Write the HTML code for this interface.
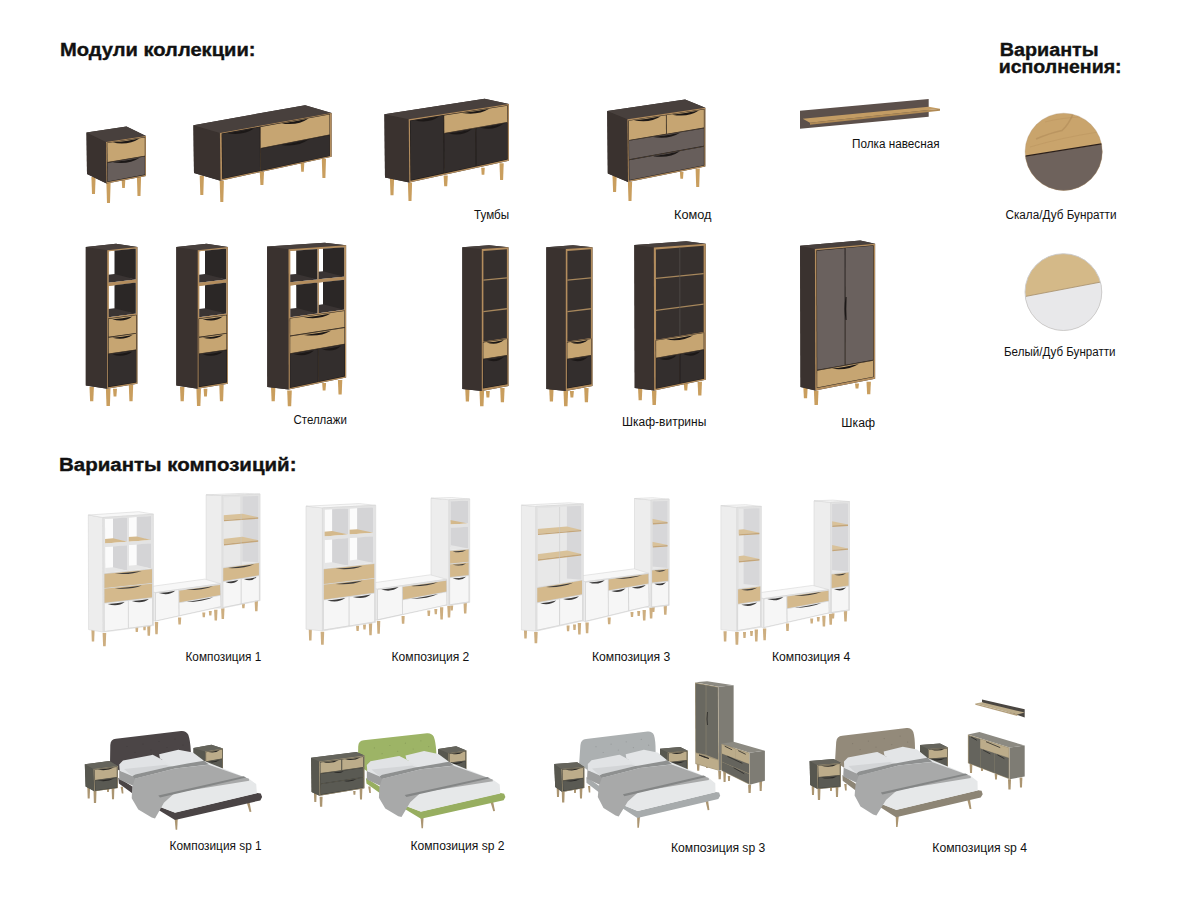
<!DOCTYPE html>
<html><head><meta charset="utf-8"><style>
html,body{margin:0;padding:0;background:#fff;width:1200px;height:900px;overflow:hidden}
svg{display:block}
text{font-family:"Liberation Sans",sans-serif;fill:#111}
</style></head><body>
<svg width="1200" height="900" viewBox="0 0 1200 900">
<text x="60.0" y="55.7" font-size="18" font-weight="bold" textLength="195.5" lengthAdjust="spacingAndGlyphs" stroke="#111" stroke-width="0.35">Модули коллекции:</text>
<text x="999.7" y="56.0" font-size="18" font-weight="bold" textLength="99.0" lengthAdjust="spacingAndGlyphs" stroke="#111" stroke-width="0.35">Варианты</text>
<text x="998.7" y="73.3" font-size="18" font-weight="bold" textLength="122.9" lengthAdjust="spacingAndGlyphs" stroke="#111" stroke-width="0.35">исполнения:</text>
<text x="852.0" y="148.0" font-size="12" font-weight="normal" textLength="87.5" lengthAdjust="spacingAndGlyphs">Полка навесная</text>
<text x="474.0" y="219.0" font-size="12" font-weight="normal" textLength="35.0" lengthAdjust="spacingAndGlyphs">Тумбы</text>
<text x="674.0" y="219.0" font-size="12" font-weight="normal" textLength="37.5" lengthAdjust="spacingAndGlyphs">Комод</text>
<text x="1005.5" y="218.9" font-size="12" font-weight="normal" textLength="111.0" lengthAdjust="spacingAndGlyphs">Скала/Дуб Бунратти</text>
<text x="1004.0" y="356.3" font-size="12" font-weight="normal" textLength="111.5" lengthAdjust="spacingAndGlyphs">Белый/Дуб Бунратти</text>
<text x="293.5" y="423.8" font-size="12" font-weight="normal" textLength="53.3" lengthAdjust="spacingAndGlyphs">Стеллажи</text>
<text x="622.0" y="425.5" font-size="12" font-weight="normal" textLength="84.3" lengthAdjust="spacingAndGlyphs">Шкаф-витрины</text>
<text x="841.3" y="426.5" font-size="12" font-weight="normal" textLength="33.7" lengthAdjust="spacingAndGlyphs">Шкаф</text>
<text x="59.0" y="470.6" font-size="18" font-weight="bold" textLength="237.5" lengthAdjust="spacingAndGlyphs" stroke="#111" stroke-width="0.35">Варианты композиций:</text>
<text x="185.5" y="660.5" font-size="12" font-weight="normal" textLength="75.8" lengthAdjust="spacingAndGlyphs">Композиция 1</text>
<text x="391.6" y="660.5" font-size="12" font-weight="normal" textLength="77.7" lengthAdjust="spacingAndGlyphs">Композиция 2</text>
<text x="592.0" y="661.2" font-size="12" font-weight="normal" textLength="78.3" lengthAdjust="spacingAndGlyphs">Композиция 3</text>
<text x="772.0" y="661.2" font-size="12" font-weight="normal" textLength="78.3" lengthAdjust="spacingAndGlyphs">Композиция 4</text>
<text x="169.6" y="850.0" font-size="12" font-weight="normal" textLength="92.0" lengthAdjust="spacingAndGlyphs">Композиция sp 1</text>
<text x="410.5" y="850.0" font-size="12" font-weight="normal" textLength="94.1" lengthAdjust="spacingAndGlyphs">Композиция sp 2</text>
<text x="671.0" y="851.5" font-size="12" font-weight="normal" textLength="94.3" lengthAdjust="spacingAndGlyphs">Композиция sp 3</text>
<text x="932.3" y="851.5" font-size="12" font-weight="normal" textLength="94.7" lengthAdjust="spacingAndGlyphs">Композиция sp 4</text>
<polygon points="121.7,180.0 125.3,180.0 124.8,188.0 122.2,188.0" fill="#c99e5e" />
<polygon points="91.4,177.0 95.6,177.0 95.0,194.0 92.0,194.0" fill="#c99e5e" />
<polygon points="136.9,176.0 141.1,176.0 140.5,196.0 137.5,196.0" fill="#c99e5e" />
<polygon points="106.4,183.0 110.6,183.0 110.0,203.0 107.0,203.0" fill="#c99e5e" />
<polygon points="86.5,132.5 126.5,126.5 146.0,136.0 146.0,176.0 106.5,183.5 87.0,174.0" fill="#3a322f" />
<polygon points="106.0,142.0 86.5,132.5 87.0,174.0 106.5,183.5" fill="#3a322f" />
<polygon points="106.0,142.0 146.0,136.0 126.5,126.5 86.5,132.5" fill="#48403d" />
<polygon points="106.0,142.0 146.0,136.0 146.0,176.0 106.5,183.5" fill="#b38d5e" />
<polygon points="106.8,142.7 145.2,136.9 145.2,156.1 107.0,162.6" fill="#1e1a19" />
<polygon points="107.3,143.1 144.8,137.4 144.8,155.8 107.5,162.1" fill="#c6a572" />
<path d="M112.5,142.5 Q128.7,145.6 139.5,138.4 Q126.0,141.3 112.5,142.5Z" fill="#1c1817"/>
<polygon points="107.0,162.6 145.2,156.1 145.2,174.9 107.3,182.1" fill="#1e1a19" />
<polygon points="107.5,163.0 144.8,156.6 144.8,174.6 107.7,181.6" fill="#675e5b" />
<path d="M112.6,162.3 Q128.8,165.0 139.6,157.7 Q126.1,160.8 112.6,162.3Z" fill="#1c1817"/>
<polygon points="300.7,163.0 304.3,163.0 303.8,171.7 301.2,171.7" fill="#c99e5e" />
<polygon points="259.8,172.0 264.0,172.0 263.4,185.0 260.4,185.0" fill="#c99e5e" />
<polygon points="199.7,175.6 203.9,175.6 203.3,195.0 200.3,195.0" fill="#c99e5e" />
<polygon points="321.8,158.8 326.0,158.8 325.4,178.0 322.4,178.0" fill="#c99e5e" />
<polygon points="219.7,180.7 223.9,180.7 223.3,202.0 220.3,202.0" fill="#c99e5e" />
<polygon points="193.4,125.2 305.1,105.2 331.6,112.9 331.6,156.8 220.5,180.7 194.0,173.0" fill="#3a322f" />
<polygon points="219.9,132.9 193.4,125.2 194.0,173.0 220.5,180.7" fill="#3a322f" />
<polygon points="219.9,132.9 331.6,112.9 305.1,105.2 193.4,125.2" fill="#48403d" />
<polygon points="219.9,132.9 331.6,112.9 331.6,156.8 220.5,180.7" fill="#b38d5e" />
<polygon points="221.6,133.6 260.1,126.6 260.5,170.9 222.2,179.1" fill="#1e1a19" />
<polygon points="222.0,133.9 259.7,127.1 260.0,170.6 222.6,178.6" fill="#332e2d" />
<path d="M227.4,133.2 Q243.6,135.9 254.4,128.3 Q240.9,131.6 227.4,133.2Z" fill="#1c1817"/>
<polygon points="260.1,126.6 329.9,114.1 329.9,134.7 260.3,148.4" fill="#1e1a19" />
<polygon points="260.6,127.0 329.5,114.6 329.5,134.4 260.7,147.9" fill="#c6a572" />
<path d="M281.5,123.4 Q297.7,126.1 308.5,118.6 Q295.0,121.8 281.5,123.4Z" fill="#1c1817"/>
<polygon points="260.3,148.4 329.9,134.7 329.9,156.1 260.5,170.9" fill="#1e1a19" />
<polygon points="260.8,148.8 329.5,135.2 329.5,155.7 260.9,170.4" fill="#332e2d" />
<path d="M281.6,144.9 Q297.8,147.3 308.6,139.6 Q295.1,143.1 281.6,144.9Z" fill="#1c1817"/>
<polygon points="481.2,167.8 484.8,167.8 484.3,174.8 481.7,174.8" fill="#c99e5e" />
<polygon points="443.6,175.5 447.8,175.5 447.2,186.3 444.2,186.3" fill="#c99e5e" />
<polygon points="389.9,178.0 394.1,178.0 393.5,195.3 390.5,195.3" fill="#c99e5e" />
<polygon points="499.5,163.3 503.7,163.3 503.1,180.0 500.1,180.0" fill="#c99e5e" />
<polygon points="407.9,182.5 412.1,182.5 411.5,201.0 408.5,201.0" fill="#c99e5e" />
<polygon points="384.4,114.2 484.6,98.8 508.9,103.9 508.9,160.8 409.3,182.5 385.0,177.4" fill="#3a322f" />
<polygon points="408.7,119.3 384.4,114.2 385.0,177.4 409.3,182.5" fill="#3a322f" />
<polygon points="408.7,119.3 508.9,103.9 484.6,98.8 384.4,114.2" fill="#48403d" />
<polygon points="408.7,119.3 508.9,103.9 508.9,160.8 409.3,182.5" fill="#b38d5e" />
<polygon points="409.9,120.4 443.8,115.1 444.2,173.4 410.5,180.7" fill="#1e1a19" />
<polygon points="410.4,120.8 443.3,115.6 443.7,173.0 410.9,180.1" fill="#332e2d" />
<path d="M414.7,120.4 Q429.3,123.7 439.0,116.6 Q426.9,119.3 414.7,120.4Z" fill="#1c1817"/>
<polygon points="443.8,115.1 507.7,105.2 507.7,122.3 443.9,133.4" fill="#1e1a19" />
<polygon points="444.2,115.5 507.2,105.7 507.3,122.0 444.3,132.9" fill="#c6a572" />
<path d="M462.2,113.0 Q478.4,115.5 489.2,108.8 Q475.7,111.6 462.2,113.0Z" fill="#1c1817"/>
<polygon points="443.9,133.4 475.9,127.9 476.0,166.5 444.2,173.4" fill="#1e1a19" />
<polygon points="444.3,133.8 475.4,128.4 475.6,166.2 444.6,172.8" fill="#332e2d" />
<path d="M448.4,133.4 Q462.2,136.6 471.4,129.4 Q459.9,132.2 448.4,133.4Z" fill="#1c1817"/>
<polygon points="475.9,127.9 507.7,122.3 507.7,159.6 476.0,166.5" fill="#1e1a19" />
<polygon points="476.3,128.2 507.3,122.8 507.3,159.3 476.5,166.0" fill="#332e2d" />
<path d="M480.4,127.8 Q494.1,131.0 503.2,123.8 Q491.8,126.6 480.4,127.8Z" fill="#1c1817"/>
<polygon points="679.9,171.7 683.5,171.7 683.0,178.7 680.4,178.7" fill="#c99e5e" />
<polygon points="612.5,175.5 616.7,175.5 616.1,192.0 613.1,192.0" fill="#c99e5e" />
<polygon points="695.6,168.5 699.8,168.5 699.2,187.0 696.2,187.0" fill="#c99e5e" />
<polygon points="627.9,181.9 632.1,181.9 631.5,201.0 628.5,201.0" fill="#c99e5e" />
<polygon points="607.2,111.0 685.1,99.5 705.3,107.8 705.3,166.6 628.0,181.9 607.8,173.6" fill="#3a322f" />
<polygon points="627.4,119.3 607.2,111.0 607.8,173.6 628.0,181.9" fill="#3a322f" />
<polygon points="627.4,119.3 705.3,107.8 685.1,99.5 607.2,111.0" fill="#48403d" />
<polygon points="627.4,119.3 705.3,107.8 705.3,166.6 628.0,181.9" fill="#b38d5e" />
<polygon points="628.3,120.4 666.4,114.8 666.5,134.2 628.5,140.4" fill="#1e1a19" />
<polygon points="628.8,120.8 665.9,115.3 666.0,133.8 629.0,139.9" fill="#c6a572" />
<path d="M633.9,120.3 Q650.1,123.5 660.9,116.3 Q647.4,119.2 633.9,120.3Z" fill="#1c1817"/>
<polygon points="666.4,114.8 704.4,109.1 704.4,127.9 666.5,134.2" fill="#1e1a19" />
<polygon points="666.8,115.1 703.9,109.6 703.9,127.6 666.9,133.7" fill="#c6a572" />
<path d="M671.9,114.7 Q688.1,117.7 698.9,110.6 Q685.4,113.5 671.9,114.7Z" fill="#1c1817"/>
<polygon points="628.5,140.4 704.4,127.9 704.4,146.2 628.7,159.8" fill="#1e1a19" />
<polygon points="629.0,140.8 703.9,128.4 703.9,145.8 629.2,159.3" fill="#675e5b" />
<path d="M653.0,137.1 Q669.2,139.8 680.0,132.7 Q666.5,135.7 653.0,137.1Z" fill="#1c1817"/>
<polygon points="628.7,159.8 704.4,146.2 704.4,165.6 628.9,180.5" fill="#1e1a19" />
<polygon points="629.2,160.2 703.9,146.7 703.9,165.3 629.4,179.9" fill="#675e5b" />
<path d="M653.0,156.2 Q669.2,158.8 680.0,151.3 Q666.5,154.6 653.0,156.2Z" fill="#1c1817"/>
<polygon points="800.0,110.7 928.7,99.1 928.7,116.7 800.0,128.7" fill="#5c504b" />
<polygon points="802.7,118.7 928.7,106.7 940.0,108.7 810.0,122.7" fill="#c39c64" />
<polygon points="810.0,122.7 940.0,108.7 940.0,110.7 810.0,124.7" fill="#b08a55" />
<polygon points="113.0,388.7 117.0,388.7 116.4,396.5 113.6,396.5" fill="#c99e5e" />
<polygon points="89.5,386.7 93.9,386.7 93.3,401.3 90.1,401.3" fill="#c99e5e" />
<polygon points="128.8,384.8 133.2,384.8 132.6,401.3 129.4,401.3" fill="#c99e5e" />
<polygon points="105.9,388.7 110.5,388.7 109.9,406.0 106.5,406.0" fill="#c99e5e" />
<polygon points="85.8,247.0 116.0,243.8 137.4,247.0 137.4,383.8 107.2,388.7 85.8,385.5" fill="#3a322f" />
<polygon points="107.2,250.2 85.8,247.0 85.8,385.5 107.2,388.7" fill="#3a322f" />
<polygon points="107.2,250.2 137.4,247.0 116.0,243.8 85.8,247.0" fill="#48403d" />
<polygon points="107.2,250.2 137.4,247.0 137.4,383.8 107.2,388.7" fill="#b38d5e" />
<clipPath id="c101"><polygon points="108.7,251.3 135.9,248.4 135.9,279.5 108.7,282.7"/></clipPath>
<g clip-path="url(#c101)"><polygon points="108.7,251.3 135.9,248.4 135.9,279.5 108.7,282.7" fill="#ffffff" /><polygon points="135.9,248.4 114.5,245.2 114.5,276.3 135.9,279.5" fill="#2b2726" /><polygon points="108.7,282.7 135.9,279.5 114.5,274.0 87.3,277.2" fill="#3a3433" /></g>
<clipPath id="c102"><polygon points="108.7,285.9 135.9,282.6 135.9,313.7 108.7,317.3"/></clipPath>
<g clip-path="url(#c102)"><polygon points="108.7,285.9 135.9,282.6 135.9,313.7 108.7,317.3" fill="#ffffff" /><polygon points="135.9,282.6 114.5,279.4 114.5,310.5 135.9,313.7" fill="#2b2726" /><polygon points="108.7,317.3 135.9,313.7 114.5,308.2 87.3,311.8" fill="#3a3433" /></g>
<polygon points="108.1,318.6 136.5,314.8 136.5,333.3 108.1,337.3" fill="#1e1a19" />
<polygon points="108.6,319.0 136.0,315.3 136.0,332.9 108.6,336.8" fill="#c6a572" />
<path d="M112.2,319.2 Q124.3,322.8 132.4,316.5 Q122.3,318.6 112.2,319.2Z" fill="#1c1817"/>
<polygon points="108.1,337.3 136.5,333.3 136.5,349.7 108.1,353.9" fill="#1e1a19" />
<polygon points="108.6,337.7 136.0,333.8 136.0,349.4 108.6,353.4" fill="#c6a572" />
<path d="M112.2,337.8 Q124.3,340.8 132.4,335.0 Q122.3,337.1 112.2,337.8Z" fill="#1c1817"/>
<polygon points="108.1,353.9 136.5,349.7 136.5,382.6 108.1,387.2" fill="#1e1a19" />
<polygon points="108.6,354.3 136.0,350.2 136.0,382.2 108.6,386.6" fill="#332e2d" />
<path d="M112.2,354.4 Q124.3,358.2 132.4,351.4 Q122.3,353.8 112.2,354.4Z" fill="#1c1817"/>
<polygon points="203.6,388.7 207.4,388.7 206.9,396.5 204.1,396.5" fill="#c99e5e" />
<polygon points="180.0,386.7 184.4,386.7 183.8,401.3 180.6,401.3" fill="#c99e5e" />
<polygon points="219.3,384.8 223.7,384.8 223.1,401.3 219.9,401.3" fill="#c99e5e" />
<polygon points="196.4,388.7 201.0,388.7 200.4,406.0 197.0,406.0" fill="#c99e5e" />
<polygon points="176.3,247.0 206.5,243.8 227.9,247.0 227.9,383.8 197.7,388.7 176.3,385.5" fill="#3a322f" />
<polygon points="197.7,250.2 176.3,247.0 176.3,385.5 197.7,388.7" fill="#3a322f" />
<polygon points="197.7,250.2 227.9,247.0 206.5,243.8 176.3,247.0" fill="#48403d" />
<polygon points="197.7,250.2 227.9,247.0 227.9,383.8 197.7,388.7" fill="#b38d5e" />
<clipPath id="c103"><polygon points="199.2,251.3 226.4,248.4 226.4,279.5 199.2,282.7"/></clipPath>
<g clip-path="url(#c103)"><polygon points="199.2,251.3 226.4,248.4 226.4,279.5 199.2,282.7" fill="#ffffff" /><polygon points="226.4,248.4 205.0,245.2 205.0,276.3 226.4,279.5" fill="#2b2726" /><polygon points="199.2,282.7 226.4,279.5 205.0,274.0 177.8,277.2" fill="#3a3433" /></g>
<clipPath id="c104"><polygon points="199.2,285.9 226.4,282.6 226.4,313.7 199.2,317.3"/></clipPath>
<g clip-path="url(#c104)"><polygon points="199.2,285.9 226.4,282.6 226.4,313.7 199.2,317.3" fill="#ffffff" /><polygon points="226.4,282.6 205.0,279.4 205.0,310.5 226.4,313.7" fill="#2b2726" /><polygon points="199.2,317.3 226.4,313.7 205.0,308.2 177.8,311.8" fill="#3a3433" /></g>
<polygon points="198.6,318.6 227.0,314.8 227.0,333.3 198.6,337.3" fill="#1e1a19" />
<polygon points="199.1,319.0 226.5,315.3 226.5,332.9 199.1,336.8" fill="#c6a572" />
<path d="M202.7,319.2 Q214.8,322.8 222.9,316.5 Q212.8,318.6 202.7,319.2Z" fill="#1c1817"/>
<polygon points="198.6,337.3 227.0,333.3 227.0,349.7 198.6,353.9" fill="#1e1a19" />
<polygon points="199.1,337.7 226.5,333.8 226.5,349.4 199.1,353.4" fill="#c6a572" />
<path d="M202.7,337.8 Q214.8,340.8 222.9,335.0 Q212.8,337.1 202.7,337.8Z" fill="#1c1817"/>
<polygon points="198.6,353.9 227.0,349.7 227.0,382.6 198.6,387.2" fill="#1e1a19" />
<polygon points="199.1,354.3 226.5,350.2 226.5,382.2 199.1,386.6" fill="#332e2d" />
<path d="M202.7,354.4 Q214.8,358.2 222.9,351.4 Q212.8,353.8 202.7,354.4Z" fill="#1c1817"/>
<polygon points="322.2,382.9 326.1,382.9 325.5,390.6 322.7,390.6" fill="#c99e5e" />
<polygon points="271.0,386.7 275.4,386.7 274.8,401.3 271.6,401.3" fill="#c99e5e" />
<polygon points="337.9,380.0 342.3,380.0 341.7,394.5 338.5,394.5" fill="#c99e5e" />
<polygon points="287.2,390.6 291.8,390.6 291.2,406.2 287.8,406.2" fill="#c99e5e" />
<polygon points="267.1,246.6 324.7,242.7 346.1,245.3 346.1,377.5 288.7,389.6 267.3,387.0" fill="#3a322f" />
<polygon points="288.5,249.2 267.1,246.6 267.3,387.0 288.7,389.6" fill="#3a322f" />
<polygon points="288.5,249.2 346.1,245.3 324.7,242.7 267.1,246.6" fill="#48403d" />
<polygon points="288.5,249.2 346.1,245.3 346.1,377.5 288.7,389.6" fill="#b38d5e" />
<clipPath id="c105"><polygon points="290.2,251.0 317.6,249.1 317.6,279.4 290.2,282.2"/></clipPath>
<g clip-path="url(#c105)"><polygon points="290.2,251.0 317.6,249.1 317.6,279.4 290.2,282.2" fill="#ffffff" /><polygon points="317.6,249.1 296.2,246.5 296.2,276.8 317.6,279.4" fill="#2b2726" /><polygon points="290.2,282.2 317.6,279.4 296.2,273.9 268.8,276.7" fill="#3a3433" /></g>
<clipPath id="c106"><polygon points="318.7,249.0 344.4,247.3 344.4,276.7 318.7,279.3"/></clipPath>
<g clip-path="url(#c106)"><polygon points="318.7,249.0 344.4,247.3 344.4,276.7 318.7,279.3" fill="#ffffff" /><polygon points="344.4,247.3 323.0,244.7 323.0,274.1 344.4,276.7" fill="#2b2726" /><polygon points="318.7,279.3 344.4,276.7 323.0,271.2 297.3,273.8" fill="#3a3433" /></g>
<clipPath id="c107"><polygon points="290.3,285.4 317.6,282.5 317.7,313.5 290.3,317.2"/></clipPath>
<g clip-path="url(#c107)"><polygon points="290.3,285.4 317.6,282.5 317.7,313.5 290.3,317.2" fill="#ffffff" /><polygon points="317.6,282.5 296.2,279.9 296.3,310.9 317.7,313.5" fill="#2b2726" /><polygon points="290.3,317.2 317.7,313.5 296.3,308.0 268.9,311.7" fill="#3a3433" /></g>
<clipPath id="c108"><polygon points="318.7,282.4 344.4,279.7 344.4,309.8 318.8,313.3"/></clipPath>
<g clip-path="url(#c108)"><polygon points="318.7,282.4 344.4,279.7 344.4,309.8 318.8,313.3" fill="#ffffff" /><polygon points="344.4,279.7 323.0,277.1 323.0,307.2 344.4,309.8" fill="#2b2726" /><polygon points="318.8,313.3 344.4,309.8 323.0,304.3 297.4,307.8" fill="#3a3433" /></g>
<polygon points="289.7,318.3 344.9,310.6 345.0,327.4 289.8,336.1" fill="#1e1a19" />
<polygon points="290.2,318.6 344.5,311.1 344.5,327.1 290.2,335.5" fill="#c6a572" />
<path d="M303.9,317.4 Q320.1,320.0 330.8,313.6 Q317.4,316.3 303.9,317.4Z" fill="#1c1817"/>
<polygon points="289.8,336.1 345.0,327.4 345.0,344.1 289.8,353.7" fill="#1e1a19" />
<polygon points="290.2,336.4 344.5,327.9 344.5,343.8 290.2,353.2" fill="#c6a572" />
<path d="M303.9,335.0 Q320.1,337.2 330.9,330.7 Q317.4,333.6 303.9,335.0Z" fill="#1c1817"/>
<polygon points="289.8,353.7 318.2,348.8 318.3,382.0 289.8,388.0" fill="#1e1a19" />
<polygon points="290.2,354.1 317.8,349.3 317.8,381.7 290.3,387.4" fill="#332e2d" />
<path d="M293.9,354.1 Q306.0,357.6 314.1,350.6 Q304.0,353.2 293.9,354.1Z" fill="#1c1817"/>
<polygon points="318.2,348.8 345.0,344.1 345.0,376.4 318.3,382.0" fill="#1e1a19" />
<polygon points="318.7,349.1 344.5,344.6 344.5,376.1 318.7,381.5" fill="#332e2d" />
<path d="M322.1,349.2 Q333.5,352.8 341.1,345.9 Q331.6,348.4 322.1,349.2Z" fill="#1c1817"/>
<polygon points="485.9,390.9 489.8,390.9 489.3,397.6 486.5,397.6" fill="#c99e5e" />
<polygon points="465.2,388.0 469.6,388.0 469.0,401.4 465.8,401.4" fill="#c99e5e" />
<polygon points="500.2,388.0 504.6,388.0 504.0,402.3 500.8,402.3" fill="#c99e5e" />
<polygon points="479.5,390.9 484.1,390.9 483.5,406.2 480.1,406.2" fill="#c99e5e" />
<polygon points="462.3,247.2 489.0,245.3 508.5,247.2 508.5,386.1 481.8,390.9 462.3,389.0" fill="#3a322f" />
<polygon points="481.8,249.1 462.3,247.2 462.3,389.0 481.8,390.9" fill="#3a322f" />
<polygon points="481.8,249.1 508.5,247.2 489.0,245.3 462.3,247.2" fill="#48403d" />
<polygon points="481.8,249.1 508.5,247.2 508.5,386.1 481.8,390.9" fill="#b38d5e" />
<polygon points="483.4,250.9 506.9,249.2 506.9,338.1 483.4,341.4" fill="#36302e" />
<polygon points="483.4,279.4 506.9,277.2 506.9,278.5 483.4,280.7" fill="#a7875c" />
<polygon points="483.4,310.9 506.9,308.1 506.9,309.4 483.4,312.2" fill="#a7875c" />
<polygon points="482.9,342.0 507.4,338.5 507.4,355.4 482.9,359.3" fill="#1e1a19" />
<polygon points="483.3,342.4 507.0,339.0 507.0,355.1 483.3,358.7" fill="#c6a572" />
<path d="M486.4,342.5 Q496.9,345.9 503.9,340.0 Q495.1,342.0 486.4,342.5Z" fill="#1c1817"/>
<polygon points="482.9,359.3 507.4,355.4 507.4,384.2 482.9,388.6" fill="#1e1a19" />
<polygon points="483.3,359.6 507.0,355.9 507.0,383.8 483.3,388.1" fill="#332e2d" />
<path d="M486.4,359.8 Q496.9,363.7 503.9,357.0 Q495.1,359.2 486.4,359.8Z" fill="#1c1817"/>
<polygon points="569.9,390.9 573.9,390.9 573.3,397.6 570.5,397.6" fill="#c99e5e" />
<polygon points="549.2,388.0 553.6,388.0 553.0,401.4 549.8,401.4" fill="#c99e5e" />
<polygon points="584.2,388.0 588.6,388.0 588.0,402.3 584.8,402.3" fill="#c99e5e" />
<polygon points="563.5,390.9 568.1,390.9 567.5,406.2 564.1,406.2" fill="#c99e5e" />
<polygon points="546.3,247.2 573.0,245.3 592.5,247.2 592.5,386.1 565.8,390.9 546.3,389.0" fill="#3a322f" />
<polygon points="565.8,249.1 546.3,247.2 546.3,389.0 565.8,390.9" fill="#3a322f" />
<polygon points="565.8,249.1 592.5,247.2 573.0,245.3 546.3,247.2" fill="#48403d" />
<polygon points="565.8,249.1 592.5,247.2 592.5,386.1 565.8,390.9" fill="#b38d5e" />
<polygon points="567.4,250.9 590.9,249.2 590.9,338.1 567.4,341.4" fill="#36302e" />
<polygon points="567.4,279.4 590.9,277.2 590.9,278.5 567.4,280.7" fill="#a7875c" />
<polygon points="567.4,310.9 590.9,308.1 590.9,309.4 567.4,312.2" fill="#a7875c" />
<polygon points="566.9,342.0 591.4,338.5 591.4,355.4 566.9,359.3" fill="#1e1a19" />
<polygon points="567.3,342.4 591.0,339.0 591.0,355.1 567.3,358.7" fill="#c6a572" />
<path d="M570.4,342.5 Q580.9,345.9 587.9,340.0 Q579.1,342.0 570.4,342.5Z" fill="#1c1817"/>
<polygon points="566.9,359.3 591.4,355.4 591.4,384.2 566.9,388.6" fill="#1e1a19" />
<polygon points="567.3,359.6 591.0,355.9 591.0,383.8 567.3,388.1" fill="#332e2d" />
<path d="M570.4,359.8 Q580.9,363.7 587.9,357.0 Q579.1,359.2 570.4,359.8Z" fill="#1c1817"/>
<polygon points="683.8,383.7 687.8,383.7 687.2,390.5 684.4,390.5" fill="#c99e5e" />
<polygon points="638.0,387.6 642.4,387.6 641.8,400.2 638.6,400.2" fill="#c99e5e" />
<polygon points="697.6,381.8 702.0,381.8 701.4,395.4 698.2,395.4" fill="#c99e5e" />
<polygon points="651.9,390.5 656.5,390.5 655.9,405.0 652.5,405.0" fill="#c99e5e" />
<polygon points="634.3,245.1 686.2,241.2 705.7,243.7 705.7,379.8 654.2,390.5 634.7,388.0" fill="#3a322f" />
<polygon points="653.8,247.6 634.3,245.1 634.7,388.0 654.2,390.5" fill="#3a322f" />
<polygon points="653.8,247.6 705.7,243.7 686.2,241.2 634.3,245.1" fill="#48403d" />
<polygon points="653.8,247.6 705.7,243.7 705.7,379.8 654.2,390.5" fill="#b38d5e" />
<polygon points="655.9,249.4 703.6,245.7 703.7,332.0 656.1,339.7" fill="#36302e" />
<polygon points="655.9,277.8 703.6,272.9 703.6,274.2 655.9,279.1" fill="#a7875c" />
<polygon points="656.0,309.8 703.6,303.4 703.6,304.7 656.0,311.1" fill="#a7875c" />
<line x1="679.8" y1="247.5" x2="679.9" y2="335.8" stroke="#55504e" stroke-width="0.7"/>
<polygon points="655.6,340.2 704.2,332.4 704.2,349.6 655.7,358.2" fill="#1e1a19" />
<polygon points="656.1,340.6 703.7,332.9 703.7,349.2 656.1,357.7" fill="#c6a572" />
<path d="M666.4,339.6 Q682.6,341.9 693.4,335.2 Q679.9,338.1 666.4,339.6Z" fill="#1c1817"/>
<polygon points="655.7,358.2 679.9,353.9 679.9,383.8 655.7,388.8" fill="#1e1a19" />
<polygon points="656.1,358.6 679.5,354.4 679.5,383.4 656.2,388.2" fill="#332e2d" />
<path d="M659.2,358.7 Q669.5,362.4 676.4,355.6 Q667.8,358.0 659.2,358.7Z" fill="#1c1817"/>
<polygon points="679.9,353.9 704.2,349.6 704.2,378.8 679.9,383.8" fill="#1e1a19" />
<polygon points="680.4,354.3 703.7,350.1 703.7,378.4 680.4,383.2" fill="#332e2d" />
<path d="M683.4,354.3 Q693.8,358.1 700.6,351.2 Q692.0,353.6 683.4,354.3Z" fill="#1c1817"/>
<polygon points="855.0,383.6 859.0,383.6 858.4,388.5 855.6,388.5" fill="#c99e5e" />
<polygon points="803.3,386.5 807.7,386.5 807.1,398.2 803.9,398.2" fill="#c99e5e" />
<polygon points="866.5,381.7 870.9,381.7 870.3,394.3 867.1,394.3" fill="#c99e5e" />
<polygon points="813.9,390.4 818.5,390.4 817.9,405.0 814.5,405.0" fill="#c99e5e" />
<polygon points="800.1,245.7 860.3,240.4 875.1,243.7 875.1,378.8 815.3,390.4 800.5,387.1" fill="#3a322f" />
<polygon points="814.9,249.0 800.1,245.7 800.5,387.1 815.3,390.4" fill="#3a322f" />
<polygon points="814.9,249.0 875.1,243.7 860.3,240.4 800.1,245.7" fill="#48403d" />
<polygon points="814.9,249.0 875.1,243.7 875.1,378.8 815.3,390.4" fill="#b38d5e" />
<polygon points="816.4,250.3 845.0,247.7 845.2,365.2 816.7,370.3" fill="#1e1a19" />
<polygon points="816.9,250.7 844.6,248.2 844.7,364.9 817.2,369.8" fill="#6a615e" />
<polygon points="845.0,247.7 873.6,245.2 873.6,360.2 845.2,365.2" fill="#1e1a19" />
<polygon points="845.5,248.1 873.1,245.7 873.2,359.8 845.6,364.7" fill="#6a615e" />
<polygon points="816.7,370.3 873.6,360.2 873.6,377.1 816.8,388.0" fill="#1e1a19" />
<polygon points="817.2,370.7 873.2,360.7 873.2,376.7 817.2,387.5" fill="#c6a572" />
<path d="M831.7,368.7 Q847.9,370.7 858.7,363.9 Q845.2,367.0 831.7,368.7Z" fill="#1c1817"/>
<path d="M845.6,297 Q843.5,309 845.6,320 L846.6,320 Q846,309 846.6,297Z" fill="#1c1817"/>
<clipPath id="circ1"><circle cx="1063.7" cy="151.8" r="38.6"/></clipPath>
<g clip-path="url(#circ1)"><rect x="1020" y="110" width="90" height="90" fill="#c9a46c"/><path d="M1036,139 Q1050,133 1062,130.5 Q1069,124 1073,114" fill="none" stroke="#a98252" stroke-width="1.6" opacity="0.45"/><path d="M1030,147 Q1060,138 1098,132" fill="none" stroke="#b38c58" stroke-width="1" opacity="0.35"/><path d="M1045,122 Q1060,118 1080,117" fill="none" stroke="#b38c58" stroke-width="1" opacity="0.3"/><polygon points="1020,157 1110,142.5 1110,200 1020,200" fill="#6e625c"/><line x1="1020" y1="157" x2="1110" y2="142.5" stroke="#2a1f1b" stroke-width="1.3"/></g>
<circle cx="1063.7" cy="151.8" r="38.6" fill="none" stroke="#a38a6c" stroke-width="0.6" opacity="0.5"/>
<clipPath id="circ2"><circle cx="1063.4" cy="292.1" r="38.4"/></clipPath>
<g clip-path="url(#circ2)"><rect x="1020" y="250" width="90" height="90" fill="#d4b988"/><polygon points="1020,297.5 1110,280.3 1110,340 1020,340" fill="#e8e8ea"/><line x1="1020" y1="297.5" x2="1110" y2="280.3" stroke="#a58d68" stroke-width="0.8"/></g>
<circle cx="1063.4" cy="292.1" r="38.4" fill="none" stroke="#c9c9cc" stroke-width="0.9"/>
<polygon points="241.9,603.7 244.9,603.7 244.5,608.2 242.3,608.2" fill="#cdae80" />
<polygon points="254.6,600.6 258.0,600.6 257.5,611.3 255.1,611.3" fill="#cdae80" />
<polygon points="221.1,608.2 224.5,608.2 224.0,618.9 221.6,618.9" fill="#cdae80" />
<polygon points="222.1,495.6 206.1,494.8 206.1,607.4 222.1,608.2" fill="#ededed" stroke="#d6d6d6" stroke-width="0.6" stroke-linejoin="round"/>
<polygon points="222.1,495.6 260.1,494.1 244.1,493.3 206.1,494.8" fill="#f7f7f7" stroke="#d6d6d6" stroke-width="0.6" stroke-linejoin="round"/>
<polygon points="222.1,495.6 260.1,494.1 260.1,600.6 222.1,608.2" fill="#e3e3e3" stroke="#d6d6d6" stroke-width="0.6" stroke-linejoin="round"/>
<clipPath id="c1001"><polygon points="223.8,497.3 258.4,495.8 258.4,562.2 223.8,567.0"/></clipPath>
<g clip-path="url(#c1001)"><polygon points="223.8,497.3 258.4,495.8 258.4,562.2 223.8,567.0" fill="#e6e6e7" /><polygon points="258.4,495.8 242.4,495.0 242.4,561.4 258.4,562.2" fill="#d4d4d6" /><polygon points="223.8,519.9 258.4,517.3 242.4,513.8 207.8,516.4" fill="#d6bd92" /><polygon points="223.8,519.9 258.4,517.3 258.4,518.7 223.8,521.3" fill="#c09f6e" /><polygon points="223.8,544.1 258.4,540.3 242.4,536.8 207.8,540.6" fill="#d6bd92" /><polygon points="223.8,544.1 258.4,540.3 258.4,541.7 223.8,545.5" fill="#c09f6e" /><polygon points="223.8,607.9 258.4,600.9 242.4,597.4 207.8,604.4" fill="#e6e6e6" /><polygon points="223.8,497.3 258.4,495.8 258.4,562.2 223.8,567.0" fill="#ffffff" opacity="0.08"/></g>
<line x1="241.1" y1="496.5" x2="241.1" y2="564.6" stroke="#c9c9c9" stroke-width="0.5"/>
<polygon points="222.9,567.8 259.3,562.6 259.3,575.6 222.9,581.5" fill="#d2d2d2" />
<polygon points="223.3,568.2 258.9,563.1 258.9,575.2 223.3,581.0" fill="#d4b98c" />
<path d="M228.0,568.1 Q243.7,568.8 254.2,564.3 Q241.1,566.6 228.0,568.1Z" fill="#3c3b3b"/>
<polygon points="222.9,581.5 241.1,578.5 241.1,603.9 222.9,607.5" fill="#d2d2d2" />
<polygon points="223.3,581.9 240.7,579.1 240.7,603.5 223.3,606.9" fill="#f6f6f6" />
<path d="M225.7,582.1 Q233.2,585.3 238.3,580.0 Q232.0,581.7 225.7,582.1Z" fill="#3c3b3b"/>
<polygon points="241.1,578.5 259.3,575.6 259.3,600.2 241.1,603.9" fill="#d2d2d2" />
<polygon points="241.6,578.9 258.9,576.1 258.9,599.9 241.6,603.3" fill="#f6f6f6" />
<path d="M243.9,579.1 Q251.5,582.3 256.5,577.0 Q250.2,578.7 243.9,579.1Z" fill="#3c3b3b"/>
<polygon points="202.3,612.5 205.3,612.5 204.9,617.2 202.7,617.2" fill="#cdae80" />
<polygon points="208.8,611.0 211.8,611.0 211.4,615.4 209.2,615.4" fill="#cdae80" />
<polygon points="178.0,617.6 181.2,617.6 180.8,624.5 178.4,624.5" fill="#cdae80" />
<polygon points="214.1,609.7 217.5,609.7 217.0,620.5 214.6,620.5" fill="#cdae80" />
<polygon points="154.8,622.0 158.2,622.0 157.7,634.2 155.3,634.2" fill="#cdae80" />
<polygon points="155.4,592.6 139.9,588.0 139.9,616.6 155.4,621.2" fill="#ededed" stroke="#d6d6d6" stroke-width="0.6" stroke-linejoin="round"/>
<polygon points="155.4,592.6 220.4,583.7 204.9,579.1 139.9,588.0" fill="#f7f7f7" stroke="#d6d6d6" stroke-width="0.6" stroke-linejoin="round"/>
<polygon points="155.4,592.6 220.4,583.7 221.1,606.8 155.4,621.2" fill="#e3e3e3" stroke="#d6d6d6" stroke-width="0.6" stroke-linejoin="round"/>
<polygon points="155.4,592.9 178.8,589.7 179.0,615.7 155.4,620.9" fill="#d2d2d2" />
<polygon points="155.9,593.3 178.4,590.1 178.6,615.4 155.9,620.4" fill="#f6f6f6" />
<path d="M158.9,593.1 Q168.7,596.2 175.3,590.8 Q167.1,592.6 158.9,593.1Z" fill="#3c3b3b"/>
<polygon points="178.8,590.5 220.4,584.6 220.8,595.2 178.9,602.7" fill="#d2d2d2" />
<polygon points="179.3,590.8 220.0,585.1 220.3,595.0 179.4,602.2" fill="#d4b98c" />
<path d="M186.1,590.1 Q202.3,590.3 213.1,586.2 Q199.6,588.5 186.1,590.1Z" fill="#3c3b3b"/>
<polygon points="178.9,602.7 220.8,595.2 221.1,606.6 179.0,615.7" fill="#d2d2d2" />
<polygon points="179.4,603.0 220.3,595.7 220.6,606.3 179.5,615.2" fill="#f6f6f6" />
<path d="M186.3,602.0 Q202.6,601.8 213.4,597.2 Q199.8,600.0 186.3,602.0Z" fill="#3c3b3b"/>
<polygon points="135.3,626.4 138.3,626.4 137.9,632.0 135.7,632.0" fill="#cdae80" />
<polygon points="143.0,624.5 146.0,624.5 145.6,630.2 143.4,630.2" fill="#cdae80" />
<polygon points="91.4,629.2 94.6,629.2 94.2,641.5 91.8,641.5" fill="#cdae80" />
<polygon points="147.1,624.0 150.5,624.0 150.0,635.8 147.6,635.8" fill="#cdae80" />
<polygon points="102.6,633.0 106.2,633.0 105.7,646.2 103.1,646.2" fill="#cdae80" />
<polygon points="102.9,517.5 88.3,515.0 88.6,629.6 103.2,632.1" fill="#ededed" stroke="#d6d6d6" stroke-width="0.6" stroke-linejoin="round"/>
<polygon points="102.9,517.5 153.4,514.2 138.8,511.7 88.3,515.0" fill="#f7f7f7" stroke="#d6d6d6" stroke-width="0.6" stroke-linejoin="round"/>
<polygon points="102.9,517.5 153.4,514.2 153.5,625.5 103.2,632.1" fill="#e3e3e3" stroke="#d6d6d6" stroke-width="0.6" stroke-linejoin="round"/>
<clipPath id="c1002"><polygon points="105.0,519.1 127.6,517.6 127.6,541.8 105.1,543.6"/></clipPath>
<g clip-path="url(#c1002)"><polygon points="105.0,519.1 127.6,517.6 127.6,541.8 105.1,543.6" fill="#fbfbfb" /><polygon points="127.6,517.6 113.0,515.1 113.0,539.3 127.6,541.8" fill="#d4d4d6" /><polygon points="105.1,543.6 127.6,541.8 113.0,538.3 90.5,540.1" fill="#d4b98c" /></g>
<clipPath id="c1003"><polygon points="128.8,517.5 151.3,516.0 151.3,539.9 128.8,541.7"/></clipPath>
<g clip-path="url(#c1003)"><polygon points="128.8,517.5 151.3,516.0 151.3,539.9 128.8,541.7" fill="#fbfbfb" /><polygon points="151.3,516.0 136.7,513.5 136.7,537.4 151.3,539.9" fill="#d4d4d6" /><polygon points="128.8,541.7 151.3,539.9 136.7,536.4 114.2,538.2" fill="#d4b98c" /></g>
<clipPath id="c1004"><polygon points="105.1,547.1 127.6,545.2 127.6,570.7 105.2,572.8"/></clipPath>
<g clip-path="url(#c1004)"><polygon points="105.1,547.1 127.6,545.2 127.6,570.7 105.2,572.8" fill="#fbfbfb" /><polygon points="127.6,545.2 113.0,542.7 113.0,568.2 127.6,570.7" fill="#d4d4d6" /><polygon points="105.2,572.8 127.6,570.7 113.0,567.2 90.6,569.3" fill="#e6e6e6" /></g>
<clipPath id="c1005"><polygon points="128.8,545.1 151.3,543.3 151.3,568.4 128.8,570.5"/></clipPath>
<g clip-path="url(#c1005)"><polygon points="128.8,545.1 151.3,543.3 151.3,568.4 128.8,570.5" fill="#fbfbfb" /><polygon points="151.3,543.3 136.7,540.8 136.7,565.9 151.3,568.4" fill="#d4d4d6" /><polygon points="128.8,570.5 151.3,568.4 136.7,564.9 114.2,567.0" fill="#e6e6e6" /></g>
<polygon points="104.1,573.6 152.4,568.8 152.5,583.3 104.1,588.4" fill="#d2d2d2" />
<polygon points="104.5,574.0 152.0,569.3 152.0,582.9 104.5,587.9" fill="#d4b98c" />
<path d="M114.8,573.6 Q130.9,575.2 141.7,570.9 Q128.2,572.7 114.8,573.6Z" fill="#3c3b3b"/>
<polygon points="104.1,588.4 152.5,583.3 152.5,597.7 104.1,603.2" fill="#d2d2d2" />
<polygon points="104.5,588.8 152.0,583.8 152.0,597.3 104.6,602.7" fill="#d4b98c" />
<path d="M114.8,588.4 Q131.0,589.8 141.8,585.5 Q128.3,587.4 114.8,588.4Z" fill="#3c3b3b"/>
<polygon points="104.1,603.2 128.3,600.4 128.3,628.2 104.2,631.4" fill="#d2d2d2" />
<polygon points="104.6,603.6 127.9,600.9 127.9,627.9 104.7,630.9" fill="#f6f6f6" />
<path d="M107.7,603.9 Q117.9,607.2 124.7,601.9 Q116.2,603.6 107.7,603.9Z" fill="#3c3b3b"/>
<polygon points="128.3,600.4 152.5,597.7 152.5,625.1 128.3,628.2" fill="#d2d2d2" />
<polygon points="128.7,600.8 152.0,598.2 152.0,624.7 128.8,627.7" fill="#f6f6f6" />
<path d="M131.9,601.1 Q142.1,604.4 148.9,599.1 Q140.4,600.8 131.9,601.1Z" fill="#3c3b3b"/>
<polygon points="450.2,605.4 453.2,605.4 452.8,610.6 450.6,610.6" fill="#cdae80" />
<polygon points="463.5,602.4 466.9,602.4 466.4,613.6 464.0,613.6" fill="#cdae80" />
<polygon points="447.3,606.1 450.7,606.1 450.2,617.4 447.8,617.4" fill="#cdae80" />
<polygon points="449.0,499.7 431.0,498.2 431.0,603.9 449.0,605.4" fill="#ededed" stroke="#d6d6d6" stroke-width="0.6" stroke-linejoin="round"/>
<polygon points="449.0,499.7 469.7,499.0 451.7,497.5 431.0,498.2" fill="#f7f7f7" stroke="#d6d6d6" stroke-width="0.6" stroke-linejoin="round"/>
<polygon points="449.0,499.7 469.7,499.0 469.7,602.4 449.0,605.4" fill="#e3e3e3" stroke="#d6d6d6" stroke-width="0.6" stroke-linejoin="round"/>
<clipPath id="c1006"><polygon points="450.6,501.3 468.1,500.7 468.1,523.4 450.6,524.5"/></clipPath>
<g clip-path="url(#c1006)"><polygon points="450.6,501.3 468.1,500.7 468.1,523.4 450.6,524.5" fill="#fbfbfb" /><polygon points="468.1,500.7 450.1,499.2 450.1,521.9 468.1,523.4" fill="#d4d4d6" /><polygon points="450.6,524.5 468.1,523.4 450.1,519.9 432.6,521.0" fill="#d4b98c" /></g>
<clipPath id="c1007"><polygon points="450.6,527.8 468.1,526.7 468.1,548.4 450.6,549.9"/></clipPath>
<g clip-path="url(#c1007)"><polygon points="450.6,527.8 468.1,526.7 468.1,548.4 450.6,549.9" fill="#fbfbfb" /><polygon points="468.1,526.7 450.1,525.2 450.1,546.9 468.1,548.4" fill="#d4d4d6" /><polygon points="450.6,549.9 468.1,548.4 450.1,544.9 432.6,546.4" fill="#e6e6e6" /></g>
<polygon points="449.6,550.6 469.1,548.9 469.1,562.1 449.6,564.1" fill="#d2d2d2" />
<polygon points="450.1,551.0 468.6,549.4 468.6,561.7 450.1,563.6" fill="#d4b98c" />
<path d="M452.6,551.4 Q460.7,553.6 466.1,550.2 Q459.4,551.2 452.6,551.4Z" fill="#3c3b3b"/>
<polygon points="449.6,564.1 469.1,562.1 469.1,575.4 449.6,577.6" fill="#d2d2d2" />
<polygon points="450.1,564.5 468.6,562.6 468.6,575.0 450.1,577.1" fill="#d4b98c" />
<path d="M452.6,564.8 Q460.7,566.9 466.1,563.4 Q459.4,564.6 452.6,564.8Z" fill="#3c3b3b"/>
<polygon points="449.6,577.6 469.1,575.4 469.1,602.0 449.6,604.8" fill="#d2d2d2" />
<polygon points="450.1,578.0 468.6,575.9 468.6,601.6 450.1,604.3" fill="#f6f6f6" />
<path d="M452.6,578.3 Q460.7,581.8 466.1,576.7 Q459.4,578.2 452.6,578.3Z" fill="#3c3b3b"/>
<polygon points="427.3,610.4 430.3,610.4 429.9,615.9 427.7,615.9" fill="#cdae80" />
<polygon points="434.3,608.9 437.3,608.9 436.9,614.3 434.7,614.3" fill="#cdae80" />
<polygon points="401.5,615.9 404.7,615.9 404.3,623.7 401.9,623.7" fill="#cdae80" />
<polygon points="439.9,607.3 443.3,607.3 442.8,619.4 440.4,619.4" fill="#cdae80" />
<polygon points="376.9,620.9 380.3,620.9 379.8,633.8 377.4,633.8" fill="#cdae80" />
<polygon points="377.4,589.1 360.9,584.6 360.9,615.7 377.4,620.2" fill="#ededed" stroke="#d6d6d6" stroke-width="0.6" stroke-linejoin="round"/>
<polygon points="377.4,589.1 446.7,579.3 430.2,574.8 360.9,584.6" fill="#f7f7f7" stroke="#d6d6d6" stroke-width="0.6" stroke-linejoin="round"/>
<polygon points="377.4,589.1 446.7,579.3 447.0,605.0 377.4,620.2" fill="#e3e3e3" stroke="#d6d6d6" stroke-width="0.6" stroke-linejoin="round"/>
<polygon points="377.4,589.4 402.3,585.9 402.5,614.4 377.4,619.9" fill="#d2d2d2" />
<polygon points="377.9,589.8 401.9,586.3 402.0,614.1 377.9,619.3" fill="#f6f6f6" />
<path d="M381.1,589.6 Q391.6,592.6 398.7,587.1 Q389.9,589.0 381.1,589.6Z" fill="#3c3b3b"/>
<polygon points="402.4,586.7 446.7,580.3 446.8,591.9 402.4,599.9" fill="#d2d2d2" />
<polygon points="402.8,587.1 446.3,580.8 446.4,591.6 402.9,599.4" fill="#d4b98c" />
<path d="M411.0,586.1 Q427.2,586.5 438.0,582.2 Q424.5,584.6 411.0,586.1Z" fill="#3c3b3b"/>
<polygon points="402.4,599.9 446.8,591.9 447.0,604.7 402.5,614.4" fill="#d2d2d2" />
<polygon points="402.9,600.2 446.4,592.3 446.5,604.5 402.9,613.9" fill="#f6f6f6" />
<path d="M411.1,599.0 Q427.3,599.1 438.1,594.1 Q424.6,597.0 411.1,599.0Z" fill="#3c3b3b"/>
<polygon points="356.1,625.8 359.1,625.8 358.7,630.9 356.5,630.9" fill="#cdae80" />
<polygon points="363.0,624.5 366.0,624.5 365.6,629.5 363.4,629.5" fill="#cdae80" />
<polygon points="308.7,628.3 311.9,628.3 311.5,640.4 309.1,640.4" fill="#cdae80" />
<polygon points="368.8,623.2 372.2,623.2 371.7,635.2 369.3,635.2" fill="#cdae80" />
<polygon points="320.6,631.8 324.2,631.8 323.7,644.7 321.1,644.7" fill="#cdae80" />
<polygon points="322.4,507.9 306.0,506.2 306.0,629.2 322.4,630.9" fill="#ededed" stroke="#d6d6d6" stroke-width="0.6" stroke-linejoin="round"/>
<polygon points="322.4,507.9 375.7,505.3 359.3,503.6 306.0,506.2" fill="#f7f7f7" stroke="#d6d6d6" stroke-width="0.6" stroke-linejoin="round"/>
<polygon points="322.4,507.9 375.7,505.3 375.7,622.3 322.4,630.9" fill="#e3e3e3" stroke="#d6d6d6" stroke-width="0.6" stroke-linejoin="round"/>
<clipPath id="c1008"><polygon points="324.6,509.6 348.4,508.4 348.4,534.6 324.6,536.4"/></clipPath>
<g clip-path="url(#c1008)"><polygon points="324.6,509.6 348.4,508.4 348.4,534.6 324.6,536.4" fill="#fbfbfb" /><polygon points="348.4,508.4 332.1,506.7 332.1,532.9 348.4,534.6" fill="#d4d4d6" /><polygon points="324.6,536.4 348.4,534.6 332.1,531.1 308.2,532.9" fill="#d4b98c" /></g>
<clipPath id="c1009"><polygon points="349.6,508.4 373.5,507.2 373.5,532.7 349.6,534.5"/></clipPath>
<g clip-path="url(#c1009)"><polygon points="349.6,508.4 373.5,507.2 373.5,532.7 349.6,534.5" fill="#fbfbfb" /><polygon points="373.5,507.2 357.1,505.5 357.1,531.0 373.5,532.7" fill="#d4d4d6" /><polygon points="349.6,534.5 373.5,532.7 357.1,529.2 333.2,531.0" fill="#d4b98c" /></g>
<clipPath id="c1010"><polygon points="324.6,540.0 348.4,538.1 348.4,565.7 324.6,568.2"/></clipPath>
<g clip-path="url(#c1010)"><polygon points="324.6,540.0 348.4,538.1 348.4,565.7 324.6,568.2" fill="#fbfbfb" /><polygon points="348.4,538.1 332.1,536.4 332.1,564.0 348.4,565.7" fill="#d4d4d6" /><polygon points="324.6,568.2 348.4,565.7 332.1,562.2 308.2,564.7" fill="#e6e6e6" /></g>
<clipPath id="c1011"><polygon points="349.6,538.0 373.5,536.2 373.5,563.1 349.6,565.6"/></clipPath>
<g clip-path="url(#c1011)"><polygon points="349.6,538.0 373.5,536.2 373.5,563.1 349.6,565.6" fill="#fbfbfb" /><polygon points="373.5,536.2 357.1,534.5 357.1,561.4 373.5,563.1" fill="#d4d4d6" /><polygon points="349.6,565.6 373.5,563.1 357.1,559.6 333.2,562.1" fill="#e6e6e6" /></g>
<polygon points="323.5,568.9 374.6,563.6 374.6,578.3 323.5,584.4" fill="#d2d2d2" />
<polygon points="323.9,569.3 374.2,564.0 374.2,577.9 323.9,583.9" fill="#d4b98c" />
<path d="M335.6,568.7 Q351.8,570.4 362.5,565.9 Q349.0,567.8 335.6,568.7Z" fill="#3c3b3b"/>
<polygon points="323.5,584.4 374.6,578.3 374.6,593.1 323.5,599.9" fill="#d2d2d2" />
<polygon points="323.9,584.8 374.2,578.8 374.2,592.7 323.9,599.4" fill="#d4b98c" />
<path d="M335.6,584.0 Q351.8,585.4 362.5,580.8 Q349.0,582.9 335.6,584.0Z" fill="#3c3b3b"/>
<polygon points="323.5,599.9 349.0,596.5 349.0,626.0 323.5,630.1" fill="#d2d2d2" />
<polygon points="323.9,600.3 348.6,597.0 348.6,625.6 323.9,629.6" fill="#f6f6f6" />
<path d="M327.2,600.5 Q338.1,603.5 345.3,598.1 Q336.3,599.9 327.2,600.5Z" fill="#3c3b3b"/>
<polygon points="349.0,596.5 374.6,593.1 374.6,621.9 349.0,626.0" fill="#d2d2d2" />
<polygon points="349.5,596.9 374.2,593.6 374.2,621.5 349.5,625.5" fill="#f6f6f6" />
<path d="M352.8,597.0 Q363.6,600.1 370.9,594.6 Q361.8,596.5 352.8,597.0Z" fill="#3c3b3b"/>
<polygon points="651.8,607.0 654.8,607.0 654.4,612.0 652.2,612.0" fill="#cdae80" />
<polygon points="663.6,604.7 667.0,604.7 666.5,614.8 664.1,614.8" fill="#cdae80" />
<polygon points="649.4,607.6 652.8,607.6 652.3,618.4 649.9,618.4" fill="#cdae80" />
<polygon points="651.1,500.0 634.5,498.5 634.5,606.1 651.1,607.6" fill="#ededed" stroke="#d6d6d6" stroke-width="0.6" stroke-linejoin="round"/>
<polygon points="651.1,500.0 669.2,499.2 652.6,497.7 634.5,498.5" fill="#f7f7f7" stroke="#d6d6d6" stroke-width="0.6" stroke-linejoin="round"/>
<polygon points="651.1,500.0 669.2,499.2 669.2,605.4 651.1,607.6" fill="#e3e3e3" stroke="#d6d6d6" stroke-width="0.6" stroke-linejoin="round"/>
<clipPath id="c1012"><polygon points="652.6,501.6 667.7,500.9 667.7,567.9 652.6,569.3"/></clipPath>
<g clip-path="url(#c1012)"><polygon points="652.6,501.6 667.7,500.9 667.7,567.9 652.6,569.3" fill="#e6e6e7" /><polygon points="667.7,500.9 651.1,499.4 651.1,566.4 667.7,567.9" fill="#d4d4d6" /><polygon points="652.6,523.0 667.7,522.1 651.1,518.6 636.0,519.5" fill="#d6bd92" /><polygon points="652.6,523.0 667.7,522.1 667.7,523.5 652.6,524.4" fill="#c09f6e" /><polygon points="652.6,546.2 667.7,545.0 651.1,541.5 636.0,542.7" fill="#d6bd92" /><polygon points="652.6,546.2 667.7,545.0 667.7,546.4 652.6,547.6" fill="#c09f6e" /><polygon points="652.6,607.4 667.7,605.6 651.1,602.1 636.0,603.9" fill="#e6e6e6" /><polygon points="652.6,501.6 667.7,500.9 667.7,567.9 652.6,569.3" fill="#ffffff" opacity="0.08"/></g>
<polygon points="651.6,570.0 668.7,568.4 668.7,581.2 651.6,583.0" fill="#d2d2d2" />
<polygon points="652.1,570.4 668.2,568.9 668.2,580.8 652.1,582.5" fill="#d4b98c" />
<path d="M654.3,570.8 Q661.3,572.9 666.0,569.7 Q660.2,570.6 654.3,570.8Z" fill="#3c3b3b"/>
<polygon points="651.6,583.0 668.7,581.2 668.7,604.9 651.6,607.0" fill="#d2d2d2" />
<polygon points="652.1,583.4 668.2,581.7 668.2,604.5 652.1,606.5" fill="#f6f6f6" />
<path d="M654.3,583.8 Q661.3,587.5 666.0,582.5 Q660.2,583.8 654.3,583.8Z" fill="#3c3b3b"/>
<polygon points="630.5,612.0 633.5,612.0 633.1,617.0 630.9,617.0" fill="#cdae80" />
<polygon points="637.2,611.0 640.2,611.0 639.8,616.0 637.6,616.0" fill="#cdae80" />
<polygon points="607.6,617.5 610.8,617.5 610.4,624.2 608.0,624.2" fill="#cdae80" />
<polygon points="642.5,610.0 645.9,610.0 645.4,620.4 643.0,620.4" fill="#cdae80" />
<polygon points="585.4,622.5 588.8,622.5 588.3,633.3 585.9,633.3" fill="#cdae80" />
<polygon points="585.4,581.7 570.9,577.2 570.9,617.2 585.4,621.7" fill="#ededed" stroke="#d6d6d6" stroke-width="0.6" stroke-linejoin="round"/>
<polygon points="585.4,581.7 648.8,573.3 634.2,568.8 570.9,577.2" fill="#f7f7f7" stroke="#d6d6d6" stroke-width="0.6" stroke-linejoin="round"/>
<polygon points="585.4,581.7 648.8,573.3 649.2,606.2 585.4,621.7" fill="#e3e3e3" stroke="#d6d6d6" stroke-width="0.6" stroke-linejoin="round"/>
<polygon points="585.4,582.1 608.2,579.1 608.4,615.8 585.4,621.3" fill="#d2d2d2" />
<polygon points="585.9,582.5 607.8,579.5 607.9,615.5 585.9,620.7" fill="#f6f6f6" />
<path d="M588.8,582.4 Q598.4,585.6 604.8,580.2 Q596.8,582.0 588.8,582.4Z" fill="#3c3b3b"/>
<polygon points="608.2,579.1 648.8,573.6 648.9,583.8 608.3,590.7" fill="#d2d2d2" />
<polygon points="608.7,579.4 648.3,574.1 648.4,583.5 608.7,590.2" fill="#d4b98c" />
<path d="M615.0,578.8 Q631.2,579.0 642.0,575.2 Q628.5,577.4 615.0,578.8Z" fill="#3c3b3b"/>
<polygon points="608.3,590.7 628.6,587.3 628.8,610.8 608.4,615.8" fill="#d2d2d2" />
<polygon points="608.7,591.0 628.1,587.7 628.3,610.6 608.8,615.2" fill="#f6f6f6" />
<path d="M611.3,590.9 Q619.8,593.9 625.5,588.4 Q618.4,590.3 611.3,590.9Z" fill="#3c3b3b"/>
<polygon points="628.6,587.3 648.9,583.8 649.2,605.9 628.8,610.8" fill="#d2d2d2" />
<polygon points="629.0,587.6 648.4,584.3 648.7,605.7 629.2,610.3" fill="#f6f6f6" />
<path d="M631.7,587.4 Q640.2,590.4 645.8,585.0 Q638.7,586.9 631.7,587.4Z" fill="#3c3b3b"/>
<polygon points="566.6,625.5 569.6,625.5 569.2,631.2 567.0,631.2" fill="#cdae80" />
<polygon points="573.0,624.5 576.0,624.5 575.6,630.0 573.4,630.0" fill="#cdae80" />
<polygon points="523.9,628.8 527.1,628.8 526.7,638.4 524.3,638.4" fill="#cdae80" />
<polygon points="577.7,623.1 581.1,623.1 580.6,634.4 578.2,634.4" fill="#cdae80" />
<polygon points="534.1,632.0 537.7,632.0 537.2,643.2 534.6,643.2" fill="#cdae80" />
<polygon points="535.9,506.4 521.4,505.2 521.4,630.0 535.9,631.2" fill="#ededed" stroke="#d6d6d6" stroke-width="0.6" stroke-linejoin="round"/>
<polygon points="535.9,506.4 583.4,504.0 568.9,502.8 521.4,505.2" fill="#f7f7f7" stroke="#d6d6d6" stroke-width="0.6" stroke-linejoin="round"/>
<polygon points="535.9,506.4 583.4,504.0 583.4,620.7 535.9,631.2" fill="#e3e3e3" stroke="#d6d6d6" stroke-width="0.6" stroke-linejoin="round"/>
<clipPath id="c1013"><polygon points="537.9,508.1 581.4,505.8 581.4,579.7 537.9,586.7"/></clipPath>
<g clip-path="url(#c1013)"><polygon points="537.9,508.1 581.4,505.8 581.4,579.7 537.9,586.7" fill="#e6e6e7" /><polygon points="581.4,505.8 566.9,504.6 566.9,578.5 581.4,579.7" fill="#d4d4d6" /><polygon points="537.9,533.7 581.4,529.9 566.9,526.4 523.4,530.2" fill="#d6bd92" /><polygon points="537.9,533.7 581.4,529.9 581.4,531.3 537.9,535.1" fill="#c09f6e" /><polygon points="537.9,559.3 581.4,554.0 566.9,550.5 523.4,555.8" fill="#d6bd92" /><polygon points="537.9,559.3 581.4,554.0 581.4,555.4 537.9,560.7" fill="#c09f6e" /><polygon points="537.9,630.8 581.4,621.1 566.9,617.6 523.4,627.3" fill="#e6e6e6" /><polygon points="537.9,508.1 581.4,505.8 581.4,579.7 537.9,586.7" fill="#ffffff" opacity="0.08"/></g>
<line x1="559.6" y1="507.0" x2="559.6" y2="583.2" stroke="#c9c9c9" stroke-width="0.5"/>
<polygon points="536.9,587.5 582.4,580.1 582.4,594.5 536.9,602.8" fill="#d2d2d2" />
<polygon points="537.3,587.9 582.0,580.6 582.0,594.2 537.3,602.3" fill="#d4b98c" />
<path d="M546.1,587.1 Q562.4,587.7 573.1,582.7 Q559.6,585.4 546.1,587.1Z" fill="#3c3b3b"/>
<polygon points="536.9,602.8 559.6,598.7 559.6,625.3 536.9,630.4" fill="#d2d2d2" />
<polygon points="537.3,603.2 559.2,599.2 559.2,625.0 537.3,629.8" fill="#f6f6f6" />
<path d="M540.3,603.3 Q549.8,606.0 556.2,600.4 Q548.2,602.5 540.3,603.3Z" fill="#3c3b3b"/>
<polygon points="559.6,598.7 582.4,594.5 582.4,620.3 559.6,625.3" fill="#d2d2d2" />
<polygon points="560.1,599.0 582.0,595.0 582.0,620.0 560.1,624.8" fill="#f6f6f6" />
<path d="M563.1,599.1 Q572.6,601.8 579.0,596.2 Q571.0,598.3 563.1,599.1Z" fill="#3c3b3b"/>
<polygon points="831.5,613.3 834.5,613.3 834.1,618.6 831.9,618.6" fill="#cdae80" />
<polygon points="843.8,611.1 847.2,611.1 846.7,621.6 844.3,621.6" fill="#cdae80" />
<polygon points="829.0,614.1 832.4,614.1 831.9,624.7 829.5,624.7" fill="#cdae80" />
<polygon points="830.7,502.3 814.0,500.8 814.0,611.8 830.7,613.3" fill="#ededed" stroke="#d6d6d6" stroke-width="0.6" stroke-linejoin="round"/>
<polygon points="830.7,502.3 849.5,501.6 832.8,500.1 814.0,500.8" fill="#f7f7f7" stroke="#d6d6d6" stroke-width="0.6" stroke-linejoin="round"/>
<polygon points="830.7,502.3 849.5,501.6 849.5,610.3 830.7,613.3" fill="#e3e3e3" stroke="#d6d6d6" stroke-width="0.6" stroke-linejoin="round"/>
<clipPath id="c1014"><polygon points="832.2,503.9 848.0,503.3 848.0,571.5 832.2,573.3"/></clipPath>
<g clip-path="url(#c1014)"><polygon points="832.2,503.9 848.0,503.3 848.0,571.5 832.2,573.3" fill="#e6e6e7" /><polygon points="848.0,503.3 831.3,501.8 831.3,570.0 848.0,571.5" fill="#d4d4d6" /><polygon points="832.2,525.5 848.0,524.5 831.3,521.0 815.5,522.0" fill="#d6bd92" /><polygon points="832.2,525.5 848.0,524.5 848.0,525.9 832.2,526.9" fill="#c09f6e" /><polygon points="832.2,549.8 848.0,548.4 831.3,544.9 815.5,546.3" fill="#d6bd92" /><polygon points="832.2,549.8 848.0,548.4 848.0,549.8 832.2,551.2" fill="#c09f6e" /><polygon points="832.2,613.1 848.0,610.5 831.3,607.0 815.5,609.6" fill="#e6e6e6" /><polygon points="832.2,503.9 848.0,503.3 848.0,571.5 832.2,573.3" fill="#ffffff" opacity="0.08"/></g>
<polygon points="831.3,574.1 848.9,572.0 848.9,586.0 831.3,588.4" fill="#d2d2d2" />
<polygon points="831.7,574.4 848.5,572.5 848.5,585.6 831.7,587.9" fill="#d4b98c" />
<path d="M834.0,574.8 Q841.3,577.0 846.2,573.3 Q840.1,574.5 834.0,574.8Z" fill="#3c3b3b"/>
<polygon points="831.3,588.4 848.9,586.0 848.9,609.8 831.3,612.7" fill="#d2d2d2" />
<polygon points="831.7,588.8 848.5,586.5 848.5,609.5 831.7,612.1" fill="#f6f6f6" />
<path d="M834.0,589.0 Q841.3,592.5 846.2,587.4 Q840.1,588.9 834.0,589.0Z" fill="#3c3b3b"/>
<polygon points="810.2,618.4 813.2,618.4 812.8,623.5 810.6,623.5" fill="#cdae80" />
<polygon points="816.8,616.9 819.8,616.9 819.4,621.5 817.2,621.5" fill="#cdae80" />
<polygon points="785.9,623.5 789.1,623.5 788.7,630.9 786.3,630.9" fill="#cdae80" />
<polygon points="822.2,615.7 825.6,615.7 825.1,626.6 822.7,626.6" fill="#cdae80" />
<polygon points="762.9,628.5 766.3,628.5 765.8,640.2 763.4,640.2" fill="#cdae80" />
<polygon points="763.8,598.6 747.8,594.3 747.8,623.5 763.8,627.8" fill="#ededed" stroke="#d6d6d6" stroke-width="0.6" stroke-linejoin="round"/>
<polygon points="763.8,598.6 828.8,589.7 812.8,585.4 747.8,594.3" fill="#f7f7f7" stroke="#d6d6d6" stroke-width="0.6" stroke-linejoin="round"/>
<polygon points="763.8,598.6 828.8,589.7 829.2,613.0 763.8,627.8" fill="#e3e3e3" stroke="#d6d6d6" stroke-width="0.6" stroke-linejoin="round"/>
<polygon points="763.8,598.9 786.9,595.7 787.0,622.3 763.8,627.5" fill="#d2d2d2" />
<polygon points="764.3,599.3 786.4,596.2 786.6,622.0 764.3,627.0" fill="#f6f6f6" />
<path d="M767.2,599.1 Q777.0,602.2 783.4,596.9 Q775.3,598.7 767.2,599.1Z" fill="#3c3b3b"/>
<polygon points="786.9,596.3 828.8,590.4 829.0,601.1 786.9,608.7" fill="#d2d2d2" />
<polygon points="787.3,596.6 828.4,590.8 828.5,600.8 787.4,608.2" fill="#d4b98c" />
<path d="M794.4,595.9 Q810.6,596.1 821.4,592.0 Q807.9,594.3 794.4,595.9Z" fill="#3c3b3b"/>
<polygon points="786.9,608.7 829.0,601.1 829.2,612.8 787.0,622.3" fill="#d2d2d2" />
<polygon points="787.4,609.1 828.6,601.6 828.7,612.5 787.5,621.8" fill="#f6f6f6" />
<path d="M794.5,608.0 Q810.7,607.8 821.5,603.1 Q808.0,606.0 794.5,608.0Z" fill="#3c3b3b"/>
<polygon points="743.0,632.1 746.0,632.1 745.6,638.0 743.4,638.0" fill="#cdae80" />
<polygon points="750.0,631.0 753.0,631.0 752.6,636.0 750.4,636.0" fill="#cdae80" />
<polygon points="723.5,631.3 726.7,631.3 726.3,641.4 723.9,641.4" fill="#cdae80" />
<polygon points="754.6,629.6 758.0,629.6 757.5,641.4 755.1,641.4" fill="#cdae80" />
<polygon points="735.1,632.1 738.7,632.1 738.2,644.8 735.6,644.8" fill="#cdae80" />
<polygon points="736.9,507.3 720.9,505.6 720.9,629.6 736.9,631.3" fill="#ededed" stroke="#d6d6d6" stroke-width="0.6" stroke-linejoin="round"/>
<polygon points="736.9,507.3 761.4,506.4 745.4,504.7 720.9,505.6" fill="#f7f7f7" stroke="#d6d6d6" stroke-width="0.6" stroke-linejoin="round"/>
<polygon points="736.9,507.3 761.4,506.4 761.4,627.1 736.9,631.3" fill="#e3e3e3" stroke="#d6d6d6" stroke-width="0.6" stroke-linejoin="round"/>
<clipPath id="c1015"><polygon points="738.7,509.1 759.6,508.3 759.6,585.7 738.7,588.3"/></clipPath>
<g clip-path="url(#c1015)"><polygon points="738.7,509.1 759.6,508.3 759.6,585.7 738.7,588.3" fill="#e6e6e7" /><polygon points="759.6,508.3 743.6,506.6 743.6,584.0 759.6,585.7" fill="#d4d4d6" /><polygon points="738.7,534.2 759.6,532.8 743.6,529.3 722.7,530.7" fill="#d6bd92" /><polygon points="738.7,534.2 759.6,532.8 759.6,534.2 738.7,535.6" fill="#c09f6e" /><polygon points="738.7,561.1 759.6,559.1 743.6,555.6 722.7,557.6" fill="#d6bd92" /><polygon points="738.7,561.1 759.6,559.1 759.6,560.5 738.7,562.5" fill="#c09f6e" /><polygon points="738.7,631.0 759.6,627.4 743.6,623.9 722.7,627.5" fill="#e6e6e6" /><polygon points="738.7,509.1 759.6,508.3 759.6,585.7 738.7,588.3" fill="#ffffff" opacity="0.08"/></g>
<polygon points="737.6,589.0 760.7,586.2 760.7,600.9 737.6,604.2" fill="#d2d2d2" />
<polygon points="738.1,589.4 760.2,586.6 760.2,600.5 738.1,603.7" fill="#d4b98c" />
<path d="M741.1,589.7 Q750.8,591.8 757.2,587.7 Q749.1,589.2 741.1,589.7Z" fill="#3c3b3b"/>
<polygon points="737.6,604.2 760.7,600.9 760.7,626.6 737.6,630.6" fill="#d2d2d2" />
<polygon points="738.1,604.5 760.2,601.4 760.2,626.3 738.1,630.0" fill="#f6f6f6" />
<path d="M741.1,604.8 Q750.8,607.9 757.2,602.5 Q749.1,604.3 741.1,604.8Z" fill="#3c3b3b"/>
<polygon points="219.2,766.0 221.8,766.0 221.4,772.0 219.6,772.0" fill="#ab9571" />
<polygon points="193.5,747.9 211.4,744.7 223.0,748.4 223.0,768.5 205.1,771.5 193.5,767.8" fill="#57574f" />
<polygon points="205.1,751.6 193.5,747.9 193.5,767.8 205.1,771.5" fill="#57574f" />
<polygon points="205.1,751.6 223.0,748.4 211.4,744.7 193.5,747.9" fill="#65645c" />
<polygon points="205.1,751.6 223.0,748.4 223.0,768.5 205.1,771.5" fill="#a39679" />
<polygon points="205.6,751.9 222.5,748.9 222.5,758.9 205.6,761.9" fill="#3f3f3a" />
<polygon points="206.1,752.3 222.0,749.4 222.0,758.6 206.1,761.3" fill="#bcac8a" />
<path d="M208.2,752.0 Q215.2,753.6 219.9,749.9 Q214.1,751.4 208.2,752.0Z" fill="#2a2927"/>
<polygon points="205.6,761.9 222.5,758.9 222.5,768.2 205.6,771.0" fill="#3f3f3a" />
<polygon points="206.1,762.2 222.0,759.5 222.0,767.8 206.1,770.5" fill="#5a5a53" />
<path d="M208.2,762.0 Q215.2,763.6 219.9,760.0 Q214.1,761.4 208.2,762.0Z" fill="#2a2927"/>
<polygon points="120.6,786.8 123.0,786.8 123.4,793.5 121.8,793.5" fill="#ab9571" />
<polygon points="246.5,801.5 249.3,801.2 251.4,811.8 249.6,811.9" fill="#ab9571" />
<polygon points="174.6,817.5 177.8,817.5 177.2,829.8 175.6,829.8" fill="#ab9571" />
<path d="M110.0,764.4 L110.3,745.0 Q110.6,738.9 116.0,738.7 L181.1,731.0 Q186.2,730.6 188.3,734.8 Q190.2,740.0 190.8,750.7 L190.8,753.0 L120.0,771.0 Z" fill="#4b4546"/>
<circle cx="127.0" cy="746.5" r="0.6" fill="#000" opacity="0.12"/>
<circle cx="143.0" cy="744.0" r="0.6" fill="#000" opacity="0.12"/>
<circle cx="159.0" cy="741.5" r="0.6" fill="#000" opacity="0.12"/>
<circle cx="175.0" cy="739.0" r="0.6" fill="#000" opacity="0.12"/>
<circle cx="135.0" cy="752.5" r="0.6" fill="#000" opacity="0.12"/>
<circle cx="151.0" cy="750.0" r="0.6" fill="#000" opacity="0.12"/>
<circle cx="167.0" cy="747.5" r="0.6" fill="#000" opacity="0.12"/>
<circle cx="183.0" cy="745.0" r="0.6" fill="#000" opacity="0.12"/>
<polygon points="118.3,777.8 118.9,783.6 132.2,793.2 160.6,811.2 175.0,820.0 260.3,800.4 262.1,797.0 260.8,793.6 257.3,793.0 175.0,812.6 160.6,807.0 132.8,786.8" fill="#4a4445" />
<polygon points="119.2,770.4 135.0,775.0 137.0,787.5 119.2,779.4" fill="#9d9e9e" />
<polygon points="119.2,770.4 158.0,760.0 204.5,761.1 249.0,778.8 256.2,784.1 256.9,793.3 175.0,812.8 160.6,807.2 137.0,790.5 135.0,775.0" fill="#e6e8e9" />
<polygon points="159.1,754.3 178.3,749.7 193.0,752.5 204.0,760.7 187.5,763.5 172.8,766.2 171.0,765.3 160.0,758.5" fill="#e3e5e7" />
<polygon points="119.2,764.4 123.0,760.5 150.8,755.2 152.7,754.8 160.0,758.5 171.0,765.3 170.0,766.4 135.2,774.5 132.5,776.3 119.7,770.8" fill="#e1e3e5" />
<polygon points="124.0,769.0 166.0,764.8 170.0,766.4 135.2,774.5 132.5,776.3" fill="#d3d5d7" />
<polygon points="132.5,776.3 135.2,774.5 170.0,766.4 172.8,766.2 187.5,763.5 204.0,760.7 209.0,764.5 175.0,768.5 135.0,778.8" fill="#8e9090" />
<polygon points="135.0,778.5 175.0,768.5 208.8,764.8 248.9,778.8 249.2,780.8 175.0,792.8 163.9,802.8 155.0,818.4 151.7,817.4 138.3,809.5 131.7,798.3 132.2,787.2" fill="#a8a9a9" />
<polygon points="158.3,795.4 243.6,776.3 246.2,777.6 160.0,797.4" fill="#848686" />
<polygon points="106.8,787.0 109.2,787.0 108.9,792.0 107.1,792.0" fill="#ab9571" />
<polygon points="87.3,786.5 90.1,786.5 89.7,798.4 87.7,798.4" fill="#ab9571" />
<polygon points="111.6,787.5 114.4,787.5 114.0,799.2 112.0,799.2" fill="#ab9571" />
<polygon points="93.5,790.5 96.5,790.5 96.1,803.0 93.9,803.0" fill="#ab9571" />
<polygon points="84.8,764.3 109.3,761.1 118.0,765.9 118.0,788.1 94.3,791.2 85.6,786.4" fill="#57574f" />
<polygon points="93.5,769.1 84.8,764.3 85.6,786.4 94.3,791.2" fill="#57574f" />
<polygon points="93.5,769.1 118.0,765.9 109.3,761.1 84.8,764.3" fill="#65645c" />
<polygon points="93.5,769.1 118.0,765.9 118.0,788.1 94.3,791.2" fill="#a39679" />
<polygon points="94.3,769.4 117.3,766.4 117.3,777.5 94.6,780.5" fill="#3f3f3a" />
<polygon points="94.7,769.8 116.8,767.0 116.8,777.1 95.1,780.0" fill="#bcac8a" />
<path d="M97.6,769.6 Q107.4,771.3 113.9,767.5 Q105.8,769.0 97.6,769.6Z" fill="#2a2927"/>
<polygon points="94.6,780.5 117.3,777.5 117.3,787.7 95.0,790.7" fill="#3f3f3a" />
<polygon points="95.1,780.9 116.8,778.0 116.9,787.4 95.4,790.2" fill="#5a5a53" />
<path d="M98.0,780.7 Q107.6,782.2 114.0,778.6 Q106.0,780.0 98.0,780.7Z" fill="#2a2927"/>
<polygon points="438.2,748.9 456.1,746.3 466.4,750.6 466.4,770.0 448.5,772.5 438.2,768.2" fill="#57574f" />
<polygon points="448.5,753.2 438.2,748.9 438.2,768.2 448.5,772.5" fill="#57574f" />
<polygon points="448.5,753.2 466.4,750.6 456.1,746.3 438.2,748.9" fill="#65645c" />
<polygon points="448.5,753.2 466.4,750.6 466.4,770.0 448.5,772.5" fill="#a39679" />
<polygon points="449.0,753.5 465.9,751.1 465.9,760.8 449.0,763.2" fill="#3f3f3a" />
<polygon points="449.5,753.9 465.4,751.6 465.4,760.4 449.5,762.6" fill="#bcac8a" />
<path d="M451.6,753.7 Q458.6,755.5 463.3,752.0 Q457.4,753.3 451.6,753.7Z" fill="#2a2927"/>
<polygon points="449.0,763.2 465.9,760.8 465.9,769.7 449.0,772.0" fill="#3f3f3a" />
<polygon points="449.5,763.5 465.4,761.3 465.4,769.3 449.5,771.5" fill="#5a5a53" />
<path d="M451.6,763.4 Q458.6,765.2 463.3,761.7 Q457.4,763.0 451.6,763.4Z" fill="#2a2927"/>
<polygon points="368.2,786.6 370.5,786.6 370.9,793.1 369.3,793.1" fill="#ab9571" />
<polygon points="490.2,801.2 493.0,800.9 495.0,811.1 493.3,811.2" fill="#ab9571" />
<polygon points="420.5,816.3 423.6,816.4 423.0,828.2 421.5,828.2" fill="#ab9571" />
<path d="M357.9,765.0 L358.2,746.4 Q358.5,740.5 363.7,740.3 L426.9,733.2 Q431.8,732.8 433.8,736.8 Q435.7,741.8 436.3,752.1 L436.3,754.4 L367.6,771.4 Z" fill="#9db466"/>
<circle cx="374.4" cy="747.9" r="0.6" fill="#000" opacity="0.12"/>
<circle cx="389.9" cy="745.5" r="0.6" fill="#000" opacity="0.12"/>
<circle cx="405.4" cy="743.2" r="0.6" fill="#000" opacity="0.12"/>
<circle cx="420.9" cy="740.8" r="0.6" fill="#000" opacity="0.12"/>
<circle cx="382.1" cy="753.7" r="0.6" fill="#000" opacity="0.12"/>
<circle cx="397.7" cy="751.3" r="0.6" fill="#000" opacity="0.12"/>
<circle cx="413.2" cy="749.0" r="0.6" fill="#000" opacity="0.12"/>
<circle cx="428.7" cy="746.6" r="0.6" fill="#000" opacity="0.12"/>
<polygon points="365.9,778.0 366.5,783.5 379.4,792.8 406.9,810.2 420.9,818.7 503.6,800.2 505.4,796.9 504.1,793.7 500.7,793.1 420.9,811.6 407.0,806.2 380.0,786.7" fill="#97ae60" />
<polygon points="366.8,770.8 382.1,775.3 384.1,787.4 366.8,779.5" fill="#9d9e9e" />
<polygon points="366.8,770.8 404.4,761.0 449.5,762.2 492.7,779.4 499.7,784.5 500.3,793.4 420.9,811.8 407.0,806.4 384.1,790.2 382.1,775.3" fill="#e6e8e9" />
<polygon points="405.5,755.5 424.1,751.1 438.4,753.9 449.0,761.8 433.0,764.4 418.8,767.0 417.0,766.1 406.4,759.5" fill="#e3e5e7" />
<polygon points="366.8,765.1 370.5,761.3 397.5,756.3 399.3,756.0 406.4,759.5 417.0,766.1 416.1,767.2 382.3,774.8 379.7,776.6 367.3,771.2" fill="#e1e3e5" />
<polygon points="371.5,769.5 412.2,765.6 416.1,767.2 382.3,774.8 379.7,776.6" fill="#d3d5d7" />
<polygon points="379.7,776.6 382.3,774.8 416.1,767.2 418.8,767.0 433.0,764.4 449.0,761.8 453.9,765.5 420.9,769.2 382.1,779.0" fill="#8e9090" />
<polygon points="382.1,778.7 420.9,769.2 453.7,765.8 492.6,779.4 492.9,781.3 420.9,792.6 410.2,802.2 401.5,817.1 398.3,816.2 385.3,808.5 378.9,797.7 379.4,787.0" fill="#a8a9a9" />
<polygon points="404.7,795.0 487.4,777.0 490.0,778.2 406.4,797.0" fill="#848686" />
<polygon points="353.2,791.0 355.6,791.0 355.3,794.7 353.5,794.7" fill="#ab9571" />
<polygon points="313.9,792.5 316.7,792.5 316.3,802.0 314.3,802.0" fill="#ab9571" />
<polygon points="359.6,788.3 362.4,788.3 362.0,799.4 360.0,799.4" fill="#ab9571" />
<polygon points="319.6,796.8 322.6,796.8 322.2,806.8 320.0,806.8" fill="#ab9571" />
<polygon points="311.1,757.7 356.5,751.9 364.4,755.6 364.4,788.3 319.5,795.7 311.6,792.0" fill="#57574f" />
<polygon points="319.0,761.4 311.1,757.7 311.6,792.0 319.5,795.7" fill="#57574f" />
<polygon points="319.0,761.4 364.4,755.6 356.5,751.9 311.1,757.7" fill="#65645c" />
<polygon points="319.0,761.4 364.4,755.6 364.4,788.3 319.5,795.7" fill="#a39679" />
<polygon points="319.9,762.0 341.7,759.2 341.8,770.6 320.1,773.6" fill="#3f3f3a" />
<polygon points="320.4,762.4 341.3,759.7 341.3,770.2 320.5,773.1" fill="#bcac8a" />
<path d="M323.1,762.2 Q332.4,764.2 338.5,760.2 Q330.8,761.7 323.1,762.2Z" fill="#2a2927"/>
<polygon points="341.7,759.2 363.5,756.4 363.5,767.5 341.8,770.6" fill="#3f3f3a" />
<polygon points="342.2,759.6 363.0,756.9 363.0,767.1 342.2,770.1" fill="#bcac8a" />
<path d="M344.9,759.4 Q354.1,761.3 360.3,757.4 Q352.6,758.8 344.9,759.4Z" fill="#2a2927"/>
<polygon points="320.1,773.6 363.5,767.5 363.5,777.3 320.2,783.9" fill="#3f3f3a" />
<polygon points="320.5,774.0 363.0,768.0 363.1,777.0 320.7,783.4" fill="#5a5a53" />
<path d="M333.3,772.4 Q339.7,774.3 343.9,770.9 Q338.6,772.1 333.3,772.4Z" fill="#2a2927"/>
<polygon points="320.2,783.9 363.5,777.3 363.5,787.8 320.4,794.9" fill="#3f3f3a" />
<polygon points="320.7,784.3 363.1,777.8 363.1,787.4 320.8,794.3" fill="#5a5a53" />
<path d="M344.0,780.9 Q351.6,782.7 356.7,779.0 Q350.3,780.4 344.0,780.9Z" fill="#2a2927"/>
<polygon points="705.8,764.0 708.2,764.0 707.9,768.0 706.1,768.0" fill="#ab9571" />
<polygon points="696.8,763.9 699.6,763.9 699.2,770.8 697.2,770.8" fill="#ab9571" />
<polygon points="718.2,770.8 721.2,770.8 720.8,779.2 718.6,779.2" fill="#ab9571" />
<polygon points="718.3,686.8 733.6,685.2 733.6,766.0 719.0,770.8" fill="#7e7c74" />
<polygon points="695.0,682.2 707.2,681.2 733.6,685.2 718.3,686.8" fill="#8c8a82" />
<polygon points="695.0,682.6 718.3,686.8 719.0,770.8 695.4,763.9" fill="#a39679" />
<polygon points="695.6,683.4 705.8,685.2 705.8,754.8 695.8,752.4" fill="#696860" />
<polygon points="706.2,685.3 717.8,687.5 718.2,759.6 706.2,755.0" fill="#6b6a62" />
<polygon points="695.8,753.2 718.3,760.6 718.8,770.2 695.8,763.2" fill="#bcac8a" />
<path d="M707,712 Q706.2,718.5 707,725 L707.8,725 Q707.2,718.5 707.8,712Z" fill="#2b2a27"/>
<path d="M699,755 Q704,757.5 709,758.5 Q704,756 699,755Z" fill="#2b2a27" stroke="#2b2a27" stroke-width="0.8"/>
<polygon points="727.8,776.0 730.2,776.0 729.9,781.0 728.1,781.0" fill="#ab9571" />
<polygon points="723.2,770.8 726.0,770.8 725.6,782.0 723.6,782.0" fill="#ab9571" />
<polygon points="759.3,780.6 762.1,780.6 761.7,791.0 759.7,791.0" fill="#ab9571" />
<polygon points="748.1,784.7 751.1,784.7 750.7,793.0 748.5,793.0" fill="#ab9571" />
<polygon points="749.6,752.8 764.9,750.7 764.9,780.8 749.6,784.7" fill="#7e7c74" />
<polygon points="721.4,743.8 733.6,741.7 764.9,750.7 749.6,752.8" fill="#8c8a82" />
<polygon points="721.4,743.8 749.6,752.8 749.6,784.7 721.4,770.8" fill="#a39679" />
<polygon points="722.0,744.7 735.5,749.2 735.5,758.6 722.0,753.4" fill="#bcac8a" />
<polygon points="735.5,749.2 749.0,753.6 749.0,763.8 735.5,758.6" fill="#bcac8a" />
<polygon points="722.0,753.7 749.0,764.1 749.0,773.6 722.0,761.8" fill="#65645d" />
<polygon points="722.0,762.1 749.0,773.9 749.0,783.8 722.0,770.5" fill="#65645d" />
<line x1="724.7" y1="746.2" x2="732.1" y2="749.8" stroke="#2b2a27" stroke-width="0.8"/>
<line x1="738.2" y1="750.6" x2="745.7" y2="754.3" stroke="#2b2a27" stroke-width="0.8"/>
<line x1="727.4" y1="756.3" x2="742.3" y2="763.3" stroke="#2b2a27" stroke-width="0.8"/>
<line x1="733.7" y1="767.8" x2="744.2" y2="773.7" stroke="#2b2a27" stroke-width="0.8"/>
<polygon points="683.7,768.0 686.3,768.0 685.9,773.0 684.1,773.0" fill="#ab9571" />
<polygon points="660.0,748.8 680.1,746.9 687.8,750.7 687.8,769.5 667.7,771.5 660.0,767.7" fill="#57574f" />
<polygon points="667.7,752.6 660.0,748.8 660.0,767.7 667.7,771.5" fill="#57574f" />
<polygon points="667.7,752.6 687.8,750.7 680.1,746.9 660.0,748.8" fill="#65645c" />
<polygon points="667.7,752.6 687.8,750.7 687.8,769.5 667.7,771.5" fill="#a39679" />
<polygon points="668.3,752.9 687.2,751.1 687.2,760.5 668.3,762.4" fill="#3f3f3a" />
<polygon points="668.8,753.3 686.7,751.6 686.7,760.1 668.8,761.9" fill="#bcac8a" />
<path d="M671.1,753.2 Q679.1,755.3 684.4,752.0 Q677.8,753.0 671.1,753.2Z" fill="#2a2927"/>
<polygon points="668.3,762.4 687.2,760.5 687.2,769.2 668.3,771.1" fill="#3f3f3a" />
<polygon points="668.8,762.8 686.7,761.0 686.7,768.8 668.8,770.6" fill="#5a5a53" />
<path d="M671.1,762.7 Q679.1,764.7 684.4,761.4 Q677.8,762.4 671.1,762.7Z" fill="#2a2927"/>
<polygon points="588.0,785.9 590.2,785.9 590.3,792.4 588.8,792.4" fill="#ab9571" />
<polygon points="705.3,800.1 708.0,799.8 709.4,810.1 707.7,810.2" fill="#ab9571" />
<polygon points="637.1,815.7 640.1,815.7 638.9,827.7 637.4,827.7" fill="#ab9571" />
<path d="M579.1,764.1 L580.4,745.2 Q581.0,739.3 586.0,739.1 L647.5,731.6 Q652.3,731.2 654.0,735.3 Q655.6,740.3 655.6,750.7 L655.5,753.0 L588.2,770.5 Z" fill="#acb0b1"/>
<circle cx="596.0" cy="746.7" r="0.6" fill="#000" opacity="0.12"/>
<circle cx="611.1" cy="744.2" r="0.6" fill="#000" opacity="0.12"/>
<circle cx="626.2" cy="741.8" r="0.6" fill="#000" opacity="0.12"/>
<circle cx="641.3" cy="739.4" r="0.6" fill="#000" opacity="0.12"/>
<circle cx="603.2" cy="752.5" r="0.6" fill="#000" opacity="0.12"/>
<circle cx="618.3" cy="750.1" r="0.6" fill="#000" opacity="0.12"/>
<circle cx="633.4" cy="747.6" r="0.6" fill="#000" opacity="0.12"/>
<circle cx="648.6" cy="745.2" r="0.6" fill="#000" opacity="0.12"/>
<polygon points="586.3,777.1 586.5,782.7 598.5,792.1 624.3,809.6 637.4,818.1 718.3,799.1 720.2,795.8 719.1,792.5 715.9,791.9 637.7,810.9 624.5,805.5 599.4,785.9" fill="#a7abac" />
<polygon points="587.5,769.9 602.1,774.4 603.3,786.5 587.0,778.7" fill="#9d9e9e" />
<polygon points="587.5,769.9 624.4,759.8 667.9,760.9 708.8,778.1 715.3,783.2 715.5,792.2 637.7,811.1 624.5,805.7 603.2,789.4 602.1,774.4" fill="#e6e8e9" />
<polygon points="625.7,754.3 643.9,749.8 657.6,752.5 667.5,760.5 651.9,763.2 637.9,765.8 636.3,764.9 626.3,758.3" fill="#e3e5e7" />
<polygon points="587.8,764.1 591.5,760.3 617.9,755.1 619.7,754.7 626.3,758.3 636.3,764.9 635.3,766.0 602.3,773.9 599.7,775.6 587.9,770.3" fill="#e1e3e5" />
<polygon points="592.0,768.5 631.6,764.5 635.3,766.0 602.3,773.9 599.7,775.6" fill="#d3d5d7" />
<polygon points="599.7,775.6 602.3,773.9 635.3,766.0 637.9,765.8 651.9,763.2 667.5,760.5 672.0,764.2 639.9,768.1 601.9,778.1" fill="#8e9090" />
<polygon points="601.9,777.8 639.9,768.1 671.8,764.5 708.7,778.1 708.9,780.0 638.7,791.7 627.8,801.4 618.7,816.6 615.6,815.6 603.5,807.9 597.8,797.0 598.8,786.2" fill="#a8a9a9" />
<polygon points="622.9,794.2 703.8,775.6 706.2,776.9 624.4,796.2" fill="#848686" />
<polygon points="573.8,787.0 576.2,787.0 575.9,793.0 574.1,793.0" fill="#ab9571" />
<polygon points="556.6,786.5 559.4,786.5 559.0,797.0 557.0,797.0" fill="#ab9571" />
<polygon points="579.6,788.0 582.4,788.0 582.0,798.6 580.0,798.6" fill="#ab9571" />
<polygon points="561.7,790.0 564.7,790.0 564.3,802.5 562.1,802.5" fill="#ab9571" />
<polygon points="554.2,764.1 577.2,762.2 584.3,767.0 584.3,788.1 562.3,791.9 555.2,787.1" fill="#57574f" />
<polygon points="561.3,768.9 554.2,764.1 555.2,787.1 562.3,791.9" fill="#57574f" />
<polygon points="561.3,768.9 584.3,767.0 577.2,762.2 554.2,764.1" fill="#65645c" />
<polygon points="561.3,768.9 584.3,767.0 584.3,788.1 562.3,791.9" fill="#a39679" />
<polygon points="562.0,769.3 583.6,767.5 583.6,778.1 562.5,780.8" fill="#3f3f3a" />
<polygon points="562.5,769.7 583.2,767.9 583.2,777.7 562.9,780.3" fill="#bcac8a" />
<path d="M565.2,769.6 Q574.3,771.8 580.4,768.3 Q572.8,769.4 565.2,769.6Z" fill="#2a2927"/>
<polygon points="562.5,780.8 583.6,778.1 583.6,787.8 562.9,791.3" fill="#3f3f3a" />
<polygon points="563.0,781.2 583.2,778.5 583.2,787.4 563.4,790.8" fill="#5a5a53" />
<path d="M565.6,781.0 Q574.6,782.6 580.5,779.0 Q573.1,780.4 565.6,781.0Z" fill="#2a2927"/>
<polygon points="982.0,699.6 1024.7,709.3 1024.7,717.5 982.0,702.4" fill="#4a4641" />
<polygon points="975.3,703.4 982.0,702.2 1024.7,712.6 1017.4,714.6" fill="#bcac8a" />
<polygon points="975.3,703.4 1017.4,714.6 1017.4,716.0 975.3,704.8" fill="#b39f7c" />
<polygon points="980.8,768.0 983.2,768.0 982.9,771.0 981.1,771.0" fill="#ab9571" />
<polygon points="969.6,763.3 972.4,763.3 972.0,773.0 970.0,773.0" fill="#ab9571" />
<polygon points="994.7,774.0 997.3,774.0 996.9,779.5 995.1,779.5" fill="#ab9571" />
<polygon points="1019.6,777.5 1022.4,777.5 1022.0,787.5 1020.0,787.5" fill="#ab9571" />
<polygon points="1008.0,779.2 1011.0,779.2 1010.6,789.5 1008.4,789.5" fill="#ab9571" />
<polygon points="1009.5,747.4 1024.7,745.6 1024.7,776.5 1009.5,779.2" fill="#7e7c74" />
<polygon points="967.9,734.6 979.5,732.1 1024.7,745.6 1009.5,747.4" fill="#8c8a82" />
<polygon points="967.9,734.6 1009.5,747.4 1009.5,779.2 967.9,763.3" fill="#a39679" />
<polygon points="968.7,735.7 980.4,739.3 980.4,767.5 968.7,763.0" fill="#65645d" />
<polygon points="980.4,739.3 1008.7,748.1 1008.7,757.6 980.4,748.2" fill="#bcac8a" />
<polygon points="980.4,748.5 994.5,753.2 994.5,772.9 980.4,767.5" fill="#65645d" />
<polygon points="994.5,753.2 1008.7,757.9 1008.7,778.2 994.5,772.9" fill="#65645d" />
<line x1="986.0" y1="741.7" x2="1000.2" y2="747.6" stroke="#2b2a27" stroke-width="0.8"/>
<line x1="971.1" y1="737.0" x2="976.9" y2="740.3" stroke="#2b2a27" stroke-width="0.8"/>
<line x1="983.2" y1="750.1" x2="990.3" y2="753.9" stroke="#2b2a27" stroke-width="0.8"/>
<line x1="997.4" y1="754.8" x2="1004.4" y2="758.7" stroke="#2b2a27" stroke-width="0.8"/>
<polygon points="944.2,765.0 946.8,765.0 946.4,770.0 944.6,770.0" fill="#ab9571" />
<polygon points="920.0,745.0 940.0,743.5 948.0,747.5 948.0,767.0 928.0,768.5 920.0,764.5" fill="#57574f" />
<polygon points="928.0,749.0 920.0,745.0 920.0,764.5 928.0,768.5" fill="#57574f" />
<polygon points="928.0,749.0 948.0,747.5 940.0,743.5 920.0,745.0" fill="#65645c" />
<polygon points="928.0,749.0 948.0,747.5 948.0,767.0 928.0,768.5" fill="#a39679" />
<polygon points="928.6,749.3 947.4,747.9 947.4,757.7 928.6,759.1" fill="#3f3f3a" />
<polygon points="929.0,749.8 947.0,748.4 947.0,757.3 929.0,758.6" fill="#bcac8a" />
<path d="M931.4,749.7 Q939.3,751.9 944.6,748.7 Q938.0,749.6 931.4,749.7Z" fill="#2a2927"/>
<polygon points="928.6,759.1 947.4,757.7 947.4,766.7 928.6,768.1" fill="#3f3f3a" />
<polygon points="929.0,759.5 947.0,758.2 947.0,766.2 929.0,767.6" fill="#5a5a53" />
<path d="M931.4,759.5 Q939.3,761.7 944.6,758.5 Q938.0,759.4 931.4,759.5Z" fill="#2a2927"/>
<polygon points="844.2,783.9 846.6,783.9 846.7,790.6 845.1,790.6" fill="#ab9571" />
<polygon points="967.1,798.7 969.9,798.4 971.4,809.0 969.6,809.1" fill="#ab9571" />
<polygon points="895.7,814.7 898.9,814.7 897.6,827.0 896.1,827.0" fill="#ab9571" />
<path d="M835.0,761.5 L836.2,742.1 Q836.8,736.0 842.2,735.8 L906.5,728.1 Q911.5,727.7 913.3,731.9 Q914.9,737.1 915.0,747.8 L914.9,750.1 L844.5,768.1 Z" fill="#938a7a"/>
<circle cx="852.6" cy="743.6" r="0.6" fill="#000" opacity="0.12"/>
<circle cx="868.4" cy="741.1" r="0.6" fill="#000" opacity="0.12"/>
<circle cx="884.2" cy="738.6" r="0.6" fill="#000" opacity="0.12"/>
<circle cx="900.1" cy="736.1" r="0.6" fill="#000" opacity="0.12"/>
<circle cx="860.1" cy="749.6" r="0.6" fill="#000" opacity="0.12"/>
<circle cx="876.0" cy="747.1" r="0.6" fill="#000" opacity="0.12"/>
<circle cx="891.8" cy="744.6" r="0.6" fill="#000" opacity="0.12"/>
<circle cx="907.6" cy="742.1" r="0.6" fill="#000" opacity="0.12"/>
<polygon points="842.4,774.9 842.7,780.7 855.3,790.3 882.3,808.4 896.0,817.2 980.7,797.6 982.7,794.2 981.6,790.8 978.1,790.2 896.4,809.8 882.5,804.2 856.2,783.9" fill="#8d8575" />
<polygon points="843.7,767.5 859.0,772.1 860.3,784.6 843.2,776.5" fill="#9d9e9e" />
<polygon points="843.7,767.5 882.3,757.1 927.9,758.2 970.7,776.0 977.5,781.3 977.7,790.5 896.3,810.0 882.5,804.4 860.2,787.6 859.0,772.1" fill="#e6e8e9" />
<polygon points="883.7,751.4 902.8,746.8 917.1,749.6 927.4,757.8 911.1,760.6 896.5,763.3 894.8,762.4 884.4,755.6" fill="#e3e5e7" />
<polygon points="844.0,761.5 847.9,757.6 875.5,752.3 877.4,751.9 884.4,755.6 894.8,762.4 893.8,763.5 859.2,771.6 856.5,773.4 844.2,767.9" fill="#e1e3e5" />
<polygon points="848.5,766.1 889.9,761.9 893.8,763.5 859.2,771.6 856.5,773.4" fill="#d3d5d7" />
<polygon points="856.5,773.4 859.2,771.6 893.8,763.5 896.5,763.3 911.1,760.6 927.4,757.8 932.2,761.7 898.6,765.6 858.8,775.9" fill="#8e9090" />
<polygon points="858.8,775.6 898.6,765.6 932.0,762.0 970.6,776.0 970.8,778.0 897.4,790.0 886.0,800.0 876.4,815.6 873.2,814.6 860.5,806.6 854.6,795.4 855.6,784.3" fill="#a8a9a9" />
<polygon points="880.8,792.5 965.5,773.5 968.0,774.8 882.4,794.5" fill="#848686" />
<polygon points="829.8,786.0 832.2,786.0 831.9,791.0 830.1,791.0" fill="#ab9571" />
<polygon points="811.6,784.0 814.4,784.0 814.0,795.0 812.0,795.0" fill="#ab9571" />
<polygon points="835.6,786.0 838.4,786.0 838.0,797.0 836.0,797.0" fill="#ab9571" />
<polygon points="817.5,788.0 820.5,788.0 820.1,800.0 817.9,800.0" fill="#ab9571" />
<polygon points="809.6,761.0 833.6,759.0 841.0,763.0 841.0,787.0 817.6,789.0 810.2,785.0" fill="#57574f" />
<polygon points="817.0,765.0 809.6,761.0 810.2,785.0 817.6,789.0" fill="#57574f" />
<polygon points="817.0,765.0 841.0,763.0 833.6,759.0 809.6,761.0" fill="#65645c" />
<polygon points="817.0,765.0 841.0,763.0 841.0,787.0 817.6,789.0" fill="#a39679" />
<polygon points="817.7,765.4 840.3,763.5 840.3,775.5 818.0,777.4" fill="#3f3f3a" />
<polygon points="818.2,765.8 839.8,764.0 839.8,775.1 818.5,776.9" fill="#bcac8a" />
<path d="M821.0,765.7 Q830.6,768.2 837.0,764.4 Q829.0,765.6 821.0,765.7Z" fill="#2a2927"/>
<polygon points="818.0,777.4 840.3,775.5 840.3,786.6 818.3,788.5" fill="#3f3f3a" />
<polygon points="818.5,777.8 839.8,776.0 839.9,786.2 818.7,788.0" fill="#5a5a53" />
<path d="M821.3,777.7 Q830.7,780.0 837.0,776.4 Q829.2,777.5 821.3,777.7Z" fill="#2a2927"/>
</svg></body></html>
